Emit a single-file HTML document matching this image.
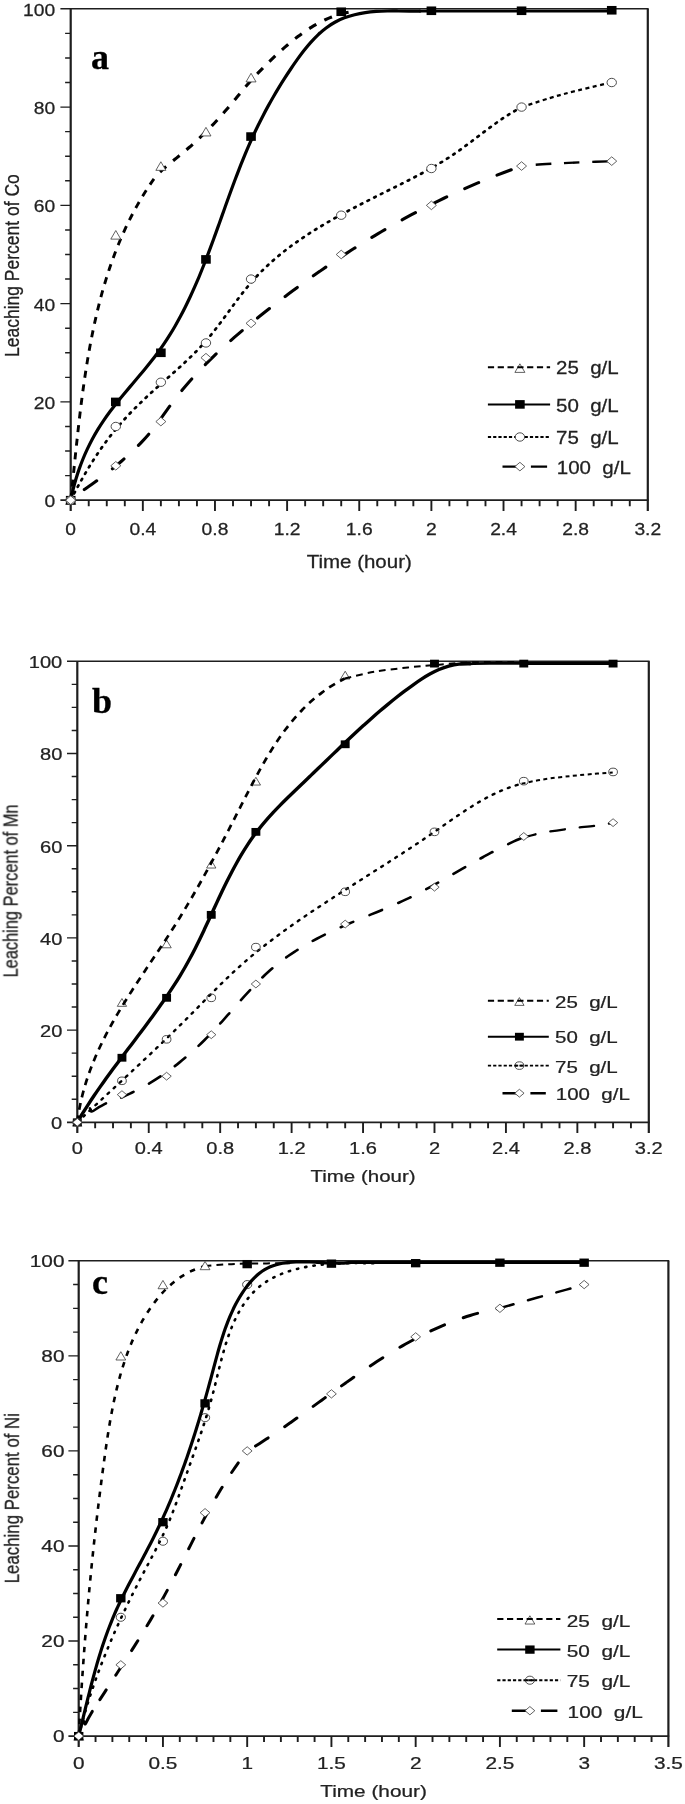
<!DOCTYPE html>
<html lang="en"><head><meta charset="utf-8"><title>Leaching percent of Co, Mn and Ni versus time</title>
<style>html,body{margin:0;padding:0;background:#fff}body{width:685px;height:1804px;overflow:hidden}svg{display:block}</style>
</head><body>
<svg width="685" height="1804" viewBox="0 0 685 1804">
<defs><filter id="soft" x="0" y="0" width="100%" height="100%" filterUnits="userSpaceOnUse" color-interpolation-filters="sRGB"><feGaussianBlur stdDeviation="0.55"/></filter></defs>
<rect width="685" height="1804" fill="#fff"/>
<g filter="url(#soft)">
<rect width="685" height="1804" fill="#fff"/>
<g id="chart-a">
<g stroke="#1e1e1e" fill="none" stroke-linecap="butt">
<line x1="60.4" y1="8.8" x2="648.6" y2="8.8" stroke-width="1.55"/>
<line x1="60.4" y1="500.2" x2="648.6" y2="500.2" stroke-width="1.8"/>
<line x1="70.7" y1="8.8" x2="70.7" y2="511" stroke-width="2.2"/>
<line x1="647.8" y1="8.8" x2="647.8" y2="511" stroke-width="2.2"/>
<path d="M65.1 475.63H70.7M65.1 451.06H70.7M65.1 426.49H70.7M60.4 401.92H70.7M65.1 377.35H70.7M65.1 352.78H70.7M65.1 328.21H70.7M60.4 303.64H70.7M65.1 279.07H70.7M65.1 254.5H70.7M65.1 229.93H70.7M60.4 205.36H70.7M65.1 180.79H70.7M65.1 156.22H70.7M65.1 131.65H70.7M60.4 107.08H70.7M65.1 82.51H70.7M65.1 57.94H70.7M65.1 33.37H70.7" stroke-width="1.4"/>
<path d="M88.73 500.2V506.2M106.77 500.2V506.2M124.8 500.2V506.2M142.84 500.2V511M160.87 500.2V506.2M178.91 500.2V506.2M196.94 500.2V506.2M214.97 500.2V511M233.01 500.2V506.2M251.04 500.2V506.2M269.08 500.2V506.2M287.11 500.2V511M305.15 500.2V506.2M323.18 500.2V506.2M341.22 500.2V506.2M359.25 500.2V511M377.28 500.2V506.2M395.32 500.2V506.2M413.35 500.2V506.2M431.39 500.2V511M449.42 500.2V506.2M467.46 500.2V506.2M485.49 500.2V506.2M503.52 500.2V511M521.56 500.2V506.2M539.59 500.2V506.2M557.63 500.2V506.2M575.66 500.2V511M593.7 500.2V506.2M611.73 500.2V506.2M629.77 500.2V506.2" stroke-width="1.9"/>
</g>
<text transform="translate(55.1 507.1) scale(0.94 0.85)" font-family='"Liberation Sans", Arial, Helvetica, sans-serif' font-size="20.5" font-weight="normal" text-anchor="end" fill="#222" stroke="#222" stroke-width="0.3" xml:space="preserve" style="white-space:pre">0</text>
<text transform="translate(55.1 408.82) scale(0.94 0.85)" font-family='"Liberation Sans", Arial, Helvetica, sans-serif' font-size="20.5" font-weight="normal" text-anchor="end" fill="#222" stroke="#222" stroke-width="0.3" xml:space="preserve" style="white-space:pre">20</text>
<text transform="translate(55.1 310.54) scale(0.94 0.85)" font-family='"Liberation Sans", Arial, Helvetica, sans-serif' font-size="20.5" font-weight="normal" text-anchor="end" fill="#222" stroke="#222" stroke-width="0.3" xml:space="preserve" style="white-space:pre">40</text>
<text transform="translate(55.1 212.26) scale(0.94 0.85)" font-family='"Liberation Sans", Arial, Helvetica, sans-serif' font-size="20.5" font-weight="normal" text-anchor="end" fill="#222" stroke="#222" stroke-width="0.3" xml:space="preserve" style="white-space:pre">60</text>
<text transform="translate(55.1 113.98) scale(0.94 0.85)" font-family='"Liberation Sans", Arial, Helvetica, sans-serif' font-size="20.5" font-weight="normal" text-anchor="end" fill="#222" stroke="#222" stroke-width="0.3" xml:space="preserve" style="white-space:pre">80</text>
<text transform="translate(55.1 15.7) scale(0.94 0.85)" font-family='"Liberation Sans", Arial, Helvetica, sans-serif' font-size="20.5" font-weight="normal" text-anchor="end" fill="#222" stroke="#222" stroke-width="0.3" xml:space="preserve" style="white-space:pre">100</text>
<text transform="translate(70.7 534.8) scale(0.94 0.85)" font-family='"Liberation Sans", Arial, Helvetica, sans-serif' font-size="20.5" font-weight="normal" text-anchor="middle" fill="#222" stroke="#222" stroke-width="0.3" xml:space="preserve" style="white-space:pre">0</text>
<text transform="translate(142.84 534.8) scale(0.94 0.85)" font-family='"Liberation Sans", Arial, Helvetica, sans-serif' font-size="20.5" font-weight="normal" text-anchor="middle" fill="#222" stroke="#222" stroke-width="0.3" xml:space="preserve" style="white-space:pre">0.4</text>
<text transform="translate(214.97 534.8) scale(0.94 0.85)" font-family='"Liberation Sans", Arial, Helvetica, sans-serif' font-size="20.5" font-weight="normal" text-anchor="middle" fill="#222" stroke="#222" stroke-width="0.3" xml:space="preserve" style="white-space:pre">0.8</text>
<text transform="translate(287.11 534.8) scale(0.94 0.85)" font-family='"Liberation Sans", Arial, Helvetica, sans-serif' font-size="20.5" font-weight="normal" text-anchor="middle" fill="#222" stroke="#222" stroke-width="0.3" xml:space="preserve" style="white-space:pre">1.2</text>
<text transform="translate(359.25 534.8) scale(0.94 0.85)" font-family='"Liberation Sans", Arial, Helvetica, sans-serif' font-size="20.5" font-weight="normal" text-anchor="middle" fill="#222" stroke="#222" stroke-width="0.3" xml:space="preserve" style="white-space:pre">1.6</text>
<text transform="translate(431.39 534.8) scale(0.94 0.85)" font-family='"Liberation Sans", Arial, Helvetica, sans-serif' font-size="20.5" font-weight="normal" text-anchor="middle" fill="#222" stroke="#222" stroke-width="0.3" xml:space="preserve" style="white-space:pre">2</text>
<text transform="translate(503.52 534.8) scale(0.94 0.85)" font-family='"Liberation Sans", Arial, Helvetica, sans-serif' font-size="20.5" font-weight="normal" text-anchor="middle" fill="#222" stroke="#222" stroke-width="0.3" xml:space="preserve" style="white-space:pre">2.4</text>
<text transform="translate(575.66 534.8) scale(0.94 0.85)" font-family='"Liberation Sans", Arial, Helvetica, sans-serif' font-size="20.5" font-weight="normal" text-anchor="middle" fill="#222" stroke="#222" stroke-width="0.3" xml:space="preserve" style="white-space:pre">2.8</text>
<text transform="translate(647.8 534.8) scale(0.94 0.85)" font-family='"Liberation Sans", Arial, Helvetica, sans-serif' font-size="20.5" font-weight="normal" text-anchor="middle" fill="#222" stroke="#222" stroke-width="0.3" xml:space="preserve" style="white-space:pre">3.2</text>
<text transform="translate(359.25 567.5) scale(1 0.85)" font-family='"Liberation Sans", Arial, Helvetica, sans-serif' font-size="20.5" font-weight="normal" text-anchor="middle" fill="#222" stroke="#222" stroke-width="0.3" xml:space="preserve" style="white-space:pre">Time (hour)</text>
<text transform="translate(19 265.6) rotate(-90) scale(0.853 1)" font-family='"Liberation Sans", Arial, Helvetica, sans-serif' font-size="20.5" font-weight="normal" text-anchor="middle" fill="#222" stroke="#222" stroke-width="0.3" xml:space="preserve" style="white-space:pre">Leaching Percent of Co</text>
<text transform="translate(91 68.6)" font-family='"Liberation Serif", "Times New Roman", serif' font-size="36" font-weight="bold" text-anchor="start" fill="#000" stroke="#000" stroke-width="0.3" xml:space="preserve" style="white-space:pre">a</text>
<g fill="none" stroke="#000">
<path d="M70.7 500.2 C70.85 498.78 71.31 494.51 71.62 491.66 C71.92 488.81 72.22 485.95 72.52 483.09 C72.82 480.22 73.11 477.35 73.41 474.48 C73.71 471.61 74 468.73 74.3 465.85 C74.6 462.96 74.9 460.08 75.2 457.19 C75.5 454.3 75.8 451.4 76.11 448.51 C76.42 445.61 76.72 442.71 77.04 439.81 C77.35 436.91 77.67 434.01 77.99 431.1 C78.31 428.2 78.64 425.29 78.98 422.38 C79.31 419.48 79.65 416.57 80 413.66 C80.35 410.75 80.7 407.84 81.07 404.93 C81.43 402.02 81.81 399.11 82.19 396.21 C82.57 393.3 82.96 390.39 83.37 387.49 C83.77 384.58 84.18 381.68 84.61 378.77 C85.03 375.87 85.47 372.97 85.92 370.08 C86.37 367.18 86.83 364.28 87.31 361.39 C87.79 358.5 88.28 355.61 88.79 352.73 C89.29 349.85 89.82 346.97 90.35 344.09 C90.89 341.22 91.44 338.35 92.02 335.48 C92.59 332.61 93.18 329.75 93.78 326.9 C94.39 324.05 95.02 321.2 95.66 318.35 C96.31 315.51 96.97 312.68 97.66 309.85 C98.34 307.02 99.05 304.2 99.78 301.39 C100.51 298.57 101.26 295.77 102.03 292.97 C102.8 290.18 103.6 287.39 104.42 284.61 C105.24 281.83 106.09 279.07 106.96 276.31 C107.83 273.55 108.72 270.8 109.65 268.06 C110.57 265.33 111.52 262.6 112.5 259.89 C113.48 257.17 114.48 254.47 115.51 251.78 C116.55 249.09 117.61 246.41 118.7 243.75 C119.8 241.08 120.92 238.43 122.08 235.79 C123.23 233.15 124.42 230.53 125.63 227.92 C126.85 225.31 128.1 222.71 129.39 220.13 C130.67 217.55 131.99 214.99 133.34 212.44 C134.7 209.89 136.09 207.36 137.51 204.84 C138.93 202.33 140.39 199.83 141.89 197.35 C143.39 194.86 144.92 192.4 146.49 189.95 C148.07 187.51 149.68 185.08 151.33 182.67 C152.98 180.26 155.55 176.69 156.4 175.5" stroke-width="2.9" stroke-linecap="butt" stroke-linejoin="round" stroke-dasharray="7 6.7"/>
<path d="M156.4 175.5 C157.05 174.88 158.96 172.98 160.27 171.76 C161.58 170.54 162.92 169.35 164.27 168.17 C165.62 166.98 166.99 165.83 168.37 164.67 C169.74 163.52 171.13 162.39 172.52 161.25 C173.91 160.12 175.31 158.99 176.7 157.86 C178.09 156.73 179.48 155.6 180.87 154.46 C182.25 153.33 183.63 152.18 185 151.03 C186.36 149.87 187.72 148.71 189.07 147.53 C190.41 146.36 191.75 145.17 193.07 143.98 C194.4 142.78 195.72 141.58 197.02 140.37 C198.33 139.15 199.62 137.93 200.91 136.7 C202.2 135.46 203.47 134.22 204.74 132.97 C206.01 131.72 207.27 130.46 208.52 129.19 C209.77 127.93 211.01 126.65 212.24 125.36 C213.47 124.08 214.69 122.79 215.9 121.49 C217.11 120.19 218.32 118.88 219.51 117.56 C220.71 116.24 221.89 114.92 223.07 113.59 C224.25 112.26 225.42 110.92 226.58 109.57 C227.74 108.23 228.89 106.87 230.03 105.52 C231.18 104.16 232.31 102.79 233.45 101.42 C234.58 100.06 235.71 98.68 236.84 97.31 C237.97 95.94 239.1 94.57 240.23 93.2 C241.36 91.83 242.49 90.46 243.64 89.1 C244.78 87.74 245.92 86.38 247.08 85.03 C248.24 83.69 249.41 82.34 250.59 81.02 C251.77 79.69 252.97 78.37 254.18 77.06 C255.39 75.76 256.61 74.46 257.85 73.18 C259.09 71.89 260.34 70.61 261.59 69.34 C262.85 68.06 264.13 66.79 265.4 65.53 C266.68 64.26 267.97 63 269.27 61.73 C270.56 60.47 271.87 59.21 273.18 57.96 C274.49 56.7 275.82 55.45 277.15 54.21 C278.48 52.97 279.82 51.74 281.17 50.52 C282.52 49.29 283.88 48.08 285.25 46.88 C286.62 45.69 288.01 44.5 289.4 43.33 C290.79 42.16 292.2 41.01 293.61 39.87 C295.03 38.74 296.46 37.63 297.9 36.53 C299.34 35.44 300.79 34.37 302.25 33.32 C303.72 32.27 305.19 31.25 306.69 30.25 C308.18 29.26 309.68 28.29 311.2 27.35 C312.72 26.41 314.25 25.5 315.8 24.62 C317.34 23.75 318.91 22.9 320.48 22.09 C322.06 21.28 323.65 20.51 325.26 19.77 C326.87 19.03 328.49 18.33 330.13 17.68 C331.77 17.02 333.42 16.4 335.09 15.83 C336.77 15.26 338.45 14.72 340.16 14.24 C341.87 13.76 343.59 13.32 345.33 12.93 C347.07 12.54 348.83 12.2 350.61 11.91 C352.39 11.62 355.1 11.32 356 11.2" stroke-width="3.1" stroke-linecap="butt" stroke-linejoin="round" stroke-dasharray="8.3 9" stroke-dashoffset="-5"/>
<path d="M70.7 500.2 C71.1 498.42 72.2 493.04 73.07 489.51 C73.95 485.97 74.9 482.46 75.94 478.98 C76.98 475.5 78.1 472.05 79.31 468.64 C80.52 465.23 81.8 461.85 83.17 458.51 C84.54 455.17 86 451.87 87.53 448.62 C89.07 445.36 90.69 442.14 92.39 438.97 C94.09 435.8 95.87 432.68 97.74 429.6 C99.6 426.53 101.56 423.51 103.58 420.53 C105.6 417.55 107.71 414.63 109.86 411.73 C112.01 408.83 114.24 405.98 116.48 403.14 C118.73 400.31 121.04 397.51 123.35 394.71 C125.66 391.92 128.01 389.15 130.35 386.37 C132.69 383.59 135.06 380.83 137.4 378.06 C139.73 375.28 142.08 372.51 144.38 369.72 C146.68 366.92 148.96 364.12 151.19 361.28 C153.42 358.44 155.62 355.59 157.74 352.69 C159.87 349.79 161.94 346.86 163.94 343.89 C165.95 340.92 167.89 337.92 169.78 334.88 C171.67 331.85 173.51 328.77 175.29 325.68 C177.08 322.58 178.81 319.45 180.5 316.29 C182.18 313.13 183.82 309.95 185.42 306.74 C187.02 303.53 188.58 300.3 190.1 297.04 C191.63 293.79 193.11 290.51 194.56 287.22 C196.01 283.92 197.43 280.6 198.83 277.27 C200.22 273.94 201.58 270.59 202.92 267.23 C204.27 263.87 205.58 260.49 206.88 257.11 C208.18 253.72 209.46 250.32 210.73 246.91 C212 243.51 213.25 240.09 214.49 236.67 C215.74 233.25 216.97 229.83 218.2 226.4 C219.43 222.97 220.65 219.54 221.87 216.1 C223.1 212.67 224.32 209.24 225.55 205.81 C226.78 202.38 228.01 198.95 229.25 195.53 C230.49 192.1 231.74 188.68 233.01 185.27 C234.27 181.87 235.54 178.46 236.84 175.07 C238.14 171.68 239.45 168.3 240.78 164.93 C242.12 161.56 243.48 158.2 244.86 154.87 C246.25 151.53 247.66 148.2 249.11 144.9 C250.55 141.59 252.03 138.31 253.54 135.04 C255.05 131.77 256.59 128.53 258.18 125.3 C259.76 122.07 261.38 118.86 263.03 115.67 C264.68 112.48 266.37 109.3 268.1 106.14 C269.83 102.99 271.6 99.84 273.4 96.72 C275.21 93.59 277.05 90.48 278.94 87.39 C280.82 84.29 282.74 81.21 284.71 78.15 C286.67 75.08 288.68 72.03 290.72 68.99 C292.77 65.95 294.85 62.91 297 59.91 C299.14 56.92 301.31 53.93 303.57 51.04 C305.83 48.15 308.14 45.3 310.55 42.6 C312.96 39.89 315.43 37.26 318.03 34.82 C320.62 32.38 323.29 30.05 326.1 27.95 C328.91 25.85 331.82 23.91 334.86 22.23 C337.91 20.54 341.11 19.09 344.39 17.84 C347.68 16.59 351.1 15.57 354.58 14.71 C358.06 13.84 361.65 13.18 365.26 12.65 C368.87 12.11 372.57 11.75 376.26 11.47 C379.95 11.2 383.7 11.08 387.41 11 C391.13 10.92 394.87 10.96 398.55 10.98 C402.22 11 405.89 11.09 409.47 11.11 C413.04 11.13 418.24 11.1 420 11.1" stroke-width="3.2" stroke-linecap="round" stroke-linejoin="round"/>
<path d="M420 11.1 C421.92 11.1 414.55 11.1 431.5 11.1 C448.45 11.1 491.63 11.12 521.7 11.1 C551.77 11.08 596.87 11.02 611.9 11" stroke-width="2.8" stroke-linecap="round" stroke-linejoin="round"/>
<path d="M70.7 500.2 C71.5 498.66 73.86 494.04 75.49 490.99 C77.11 487.93 78.75 484.89 80.43 481.88 C82.11 478.86 83.82 475.87 85.56 472.9 C87.31 469.92 89.08 466.98 90.9 464.06 C92.72 461.14 94.57 458.24 96.46 455.38 C98.35 452.52 100.28 449.69 102.26 446.9 C104.24 444.1 106.26 441.34 108.33 438.61 C110.4 435.89 112.52 433.2 114.69 430.56 C116.86 427.91 119.08 425.31 121.34 422.74 C123.61 420.17 125.93 417.65 128.29 415.16 C130.64 412.66 133.04 410.2 135.47 407.77 C137.89 405.34 140.36 402.94 142.85 400.56 C145.33 398.18 147.85 395.82 150.38 393.48 C152.91 391.14 155.47 388.83 158.03 386.52 C160.59 384.21 163.17 381.92 165.74 379.63 C168.32 377.34 170.9 375.06 173.47 372.77 C176.03 370.47 178.6 368.18 181.13 365.86 C183.66 363.54 186.18 361.21 188.66 358.84 C191.14 356.46 193.59 354.07 195.99 351.63 C198.39 349.19 200.75 346.71 203.04 344.17 C205.34 341.64 207.57 339.04 209.76 336.4 C211.95 333.77 214.07 331.07 216.18 328.36 C218.29 325.65 220.34 322.89 222.4 320.13 C224.45 317.38 226.47 314.59 228.51 311.82 C230.55 309.05 232.56 306.26 234.61 303.5 C236.66 300.74 238.71 297.99 240.8 295.28 C242.89 292.57 245 289.87 247.17 287.24 C249.34 284.61 251.54 282.01 253.81 279.48 C256.09 276.95 258.42 274.47 260.8 272.06 C263.19 269.64 265.63 267.28 268.12 264.97 C270.61 262.66 273.16 260.41 275.75 258.2 C278.34 255.99 280.98 253.83 283.66 251.71 C286.33 249.6 289.06 247.53 291.82 245.5 C294.57 243.47 297.38 241.49 300.21 239.54 C303.04 237.59 305.91 235.68 308.8 233.81 C311.69 231.93 314.62 230.09 317.57 228.28 C320.52 226.47 323.5 224.69 326.5 222.94 C329.49 221.19 332.51 219.47 335.55 217.77 C338.58 216.07 341.63 214.4 344.7 212.74 C347.76 211.09 350.84 209.45 353.93 207.84 C357.01 206.22 360.11 204.62 363.21 203.04 C366.3 201.45 369.41 199.88 372.51 198.32 C375.61 196.75 378.71 195.2 381.81 193.66 C384.91 192.11 388 190.58 391.09 189.04 C394.17 187.5 397.25 185.98 400.31 184.44 C403.38 182.9 406.43 181.36 409.47 179.81 C412.51 178.25 415.53 176.68 418.54 175.09 C421.55 173.5 424.54 171.89 427.51 170.24 C430.49 168.59 433.44 166.92 436.37 165.19 C439.3 163.47 442.21 161.72 445.1 159.91 C447.98 158.09 450.84 156.24 453.68 154.32 C456.51 152.4 459.32 150.42 462.11 148.4 C464.9 146.39 467.66 144.32 470.43 142.25 C473.2 140.17 475.95 138.06 478.71 135.97 C481.47 133.88 484.22 131.77 487 129.7 C489.78 127.63 492.56 125.57 495.38 123.57 C498.19 121.56 501.02 119.58 503.89 117.69 C506.77 115.79 509.66 113.94 512.61 112.19 C515.56 110.44 520.1 108.03 521.6 107.2" stroke-width="2.7" stroke-linecap="round" stroke-linejoin="round" stroke-dasharray="1.7 5.8"/>
<path d="M521.6 107.2 C526.27 105.68 540.25 100.9 549.6 98.1 C558.95 95.3 567.3 93.03 577.7 90.4 C588.1 87.77 606.28 83.65 612 82.3" stroke-width="2.3" stroke-linecap="butt" stroke-linejoin="round" stroke-dasharray="4 3.4"/>
<path d="M84.3 489.6 C85.57 488.72 89.39 486.11 91.91 484.31 C94.44 482.51 96.96 480.68 99.46 478.82 C101.96 476.96 104.45 475.07 106.92 473.14 C109.38 471.22 111.83 469.26 114.25 467.27 C116.67 465.28 119.07 463.26 121.44 461.21 C123.81 459.16 126.15 457.07 128.46 454.96 C130.76 452.84 133.04 450.7 135.27 448.51 C137.5 446.33 139.7 444.11 141.83 441.85 C143.97 439.58 146.07 437.28 148.1 434.92 C150.13 432.57 152.09 430.16 154.01 427.71 C155.94 425.26 157.78 422.75 159.63 420.24 C161.48 417.73 163.27 415.18 165.09 412.65 C166.91 410.12 168.71 407.58 170.56 405.07 C172.4 402.57 174.27 400.08 176.18 397.63 C178.08 395.18 180.02 392.75 181.99 390.36 C183.96 387.96 185.96 385.6 187.99 383.26 C190.02 380.91 192.08 378.6 194.17 376.31 C196.25 374.02 198.37 371.75 200.51 369.51 C202.64 367.27 204.81 365.05 207 362.85 C209.18 360.65 211.4 358.48 213.63 356.32 C215.86 354.17 218.12 352.03 220.39 349.92 C222.66 347.8 224.96 345.71 227.27 343.63 C229.58 341.55 231.91 339.49 234.26 337.44 C236.6 335.4 238.97 333.37 241.34 331.35 C243.72 329.34 246.11 327.34 248.51 325.35 C250.91 323.37 253.33 321.39 255.75 319.43 C258.18 317.47 260.61 315.52 263.06 313.58 C265.5 311.64 267.95 309.71 270.41 307.79 C272.87 305.87 275.34 303.96 277.81 302.06 C280.29 300.16 282.77 298.27 285.26 296.39 C287.75 294.51 290.24 292.64 292.75 290.78 C295.25 288.92 297.76 287.07 300.28 285.23 C302.8 283.39 305.33 281.57 307.86 279.75 C310.39 277.93 312.93 276.13 315.48 274.33 C318.03 272.54 320.59 270.75 323.15 268.98 C325.72 267.21 328.29 265.45 330.87 263.71 C333.45 261.96 336.03 260.22 338.63 258.5 C341.22 256.78 343.82 255.07 346.43 253.37 C349.04 251.67 351.66 249.98 354.29 248.31 C356.91 246.64 359.55 244.98 362.19 243.33 C364.83 241.69 367.48 240.05 370.14 238.44 C372.79 236.82 375.46 235.21 378.13 233.62 C380.8 232.03 383.49 230.45 386.17 228.89 C388.86 227.32 391.56 225.77 394.27 224.24 C396.97 222.71 399.68 221.19 402.4 219.68 C405.13 218.18 407.86 216.69 410.59 215.21 C413.33 213.74 416.08 212.28 418.83 210.83 C421.58 209.39 424.35 207.96 427.12 206.55 C429.89 205.13 432.67 203.74 435.45 202.36 C438.24 200.97 441.03 199.61 443.84 198.26 C446.64 196.91 449.45 195.58 452.27 194.27 C455.09 192.95 457.92 191.65 460.76 190.37 C463.6 189.09 466.44 187.83 469.3 186.58 C472.15 185.34 475.01 184.11 477.89 182.9 C480.76 181.68 483.64 180.49 486.52 179.32 C489.41 178.14 492.31 176.98 495.22 175.84 C498.12 174.71 501.03 173.59 503.96 172.48 C506.88 171.38 509.81 170.3 512.75 169.23 C515.69 168.17 520.13 166.62 521.6 166.1" stroke-width="3.1" stroke-linecap="round" stroke-linejoin="round" stroke-dasharray="15.2 19.8"/>
<path d="M521.6 166.1 C523.93 165.87 529.17 165.17 535.6 164.7 C542.03 164.23 552.02 163.72 560.2 163.3 C568.38 162.88 576.07 162.55 584.7 162.2 C593.33 161.85 607.45 161.37 612 161.2" stroke-width="2.4" stroke-linecap="butt" stroke-linejoin="round" stroke-dasharray="15.6 12.7" stroke-dashoffset="14.1"/>
</g>
<path d="M70.7 495.9 L75.7 504.5 L65.7 504.5 Z" fill="#fff" stroke="#3a3a3a" stroke-width="0.8"/>
<path d="M115.79 230.54 L120.79 239.14 L110.79 239.14 Z" fill="#fff" stroke="#3a3a3a" stroke-width="0.8"/>
<path d="M160.87 161.75 L165.87 170.35 L155.87 170.35 Z" fill="#fff" stroke="#3a3a3a" stroke-width="0.8"/>
<path d="M205.96 127.35 L210.96 135.95 L200.96 135.95 Z" fill="#fff" stroke="#3a3a3a" stroke-width="0.8"/>
<path d="M251.04 73.3 L256.04 81.9 L246.04 81.9 Z" fill="#fff" stroke="#3a3a3a" stroke-width="0.8"/>
<rect x="65.9" y="495.9" width="9.6" height="8.6" fill="#000"/>
<rect x="110.99" y="397.62" width="9.6" height="8.6" fill="#000"/>
<rect x="156.07" y="348.48" width="9.6" height="8.6" fill="#000"/>
<rect x="201.16" y="255.11" width="9.6" height="8.6" fill="#000"/>
<rect x="246.24" y="132.26" width="9.6" height="8.6" fill="#000"/>
<rect x="336.42" y="7.45" width="9.6" height="8.6" fill="#000"/>
<rect x="426.59" y="6.47" width="9.6" height="8.6" fill="#000"/>
<rect x="516.76" y="6.47" width="9.6" height="8.6" fill="#000"/>
<rect x="606.93" y="5.97" width="9.6" height="8.6" fill="#000"/>
<ellipse cx="70.7" cy="500.2" rx="4.7" ry="4.2" fill="#fff" stroke="#3a3a3a" stroke-width="0.9"/>
<ellipse cx="115.79" cy="426.49" rx="4.7" ry="4.2" fill="#fff" stroke="#3a3a3a" stroke-width="0.9"/>
<ellipse cx="160.87" cy="382.26" rx="4.7" ry="4.2" fill="#fff" stroke="#3a3a3a" stroke-width="0.9"/>
<ellipse cx="205.96" cy="342.95" rx="4.7" ry="4.2" fill="#fff" stroke="#3a3a3a" stroke-width="0.9"/>
<ellipse cx="251.04" cy="279.07" rx="4.7" ry="4.2" fill="#fff" stroke="#3a3a3a" stroke-width="0.9"/>
<ellipse cx="341.22" cy="215.19" rx="4.7" ry="4.2" fill="#fff" stroke="#3a3a3a" stroke-width="0.9"/>
<ellipse cx="431.39" cy="168.5" rx="4.7" ry="4.2" fill="#fff" stroke="#3a3a3a" stroke-width="0.9"/>
<ellipse cx="521.56" cy="107.08" rx="4.7" ry="4.2" fill="#fff" stroke="#3a3a3a" stroke-width="0.9"/>
<ellipse cx="611.73" cy="82.51" rx="4.7" ry="4.2" fill="#fff" stroke="#3a3a3a" stroke-width="0.9"/>
<path d="M70.7 495.9 L75.7 500.2 L70.7 504.5 L65.7 500.2 Z" fill="#fff" stroke="#3a3a3a" stroke-width="0.8"/>
<path d="M115.79 461.5 L120.79 465.8 L115.79 470.1 L110.79 465.8 Z" fill="#fff" stroke="#3a3a3a" stroke-width="0.8"/>
<path d="M160.87 417.28 L165.87 421.58 L160.87 425.88 L155.87 421.58 Z" fill="#fff" stroke="#3a3a3a" stroke-width="0.8"/>
<path d="M205.96 353.39 L210.96 357.69 L205.96 361.99 L200.96 357.69 Z" fill="#fff" stroke="#3a3a3a" stroke-width="0.8"/>
<path d="M251.04 319 L256.04 323.3 L251.04 327.6 L246.04 323.3 Z" fill="#fff" stroke="#3a3a3a" stroke-width="0.8"/>
<path d="M341.22 250.2 L346.22 254.5 L341.22 258.8 L336.22 254.5 Z" fill="#fff" stroke="#3a3a3a" stroke-width="0.8"/>
<path d="M431.39 201.06 L436.39 205.36 L431.39 209.66 L426.39 205.36 Z" fill="#fff" stroke="#3a3a3a" stroke-width="0.8"/>
<path d="M521.56 161.75 L526.56 166.05 L521.56 170.35 L516.56 166.05 Z" fill="#fff" stroke="#3a3a3a" stroke-width="0.8"/>
<path d="M611.73 156.83 L616.73 161.13 L611.73 165.43 L606.73 161.13 Z" fill="#fff" stroke="#3a3a3a" stroke-width="0.8"/>
<g fill="none" stroke="#000">
</g>
<path d="M519.9 363.8 L524.9 372.4 L514.9 372.4 Z" fill="#fff" stroke="#3a3a3a" stroke-width="0.8"/>
<g stroke="#000" fill="none">
<line x1="487.9" y1="367.3" x2="550.1" y2="367.3" stroke-width="2" stroke-dasharray="6.2 3.6"/>
<line x1="487.9" y1="404.4" x2="550.1" y2="404.4" stroke-width="2.0"/>
<line x1="487.9" y1="437" x2="550.1" y2="437" stroke-width="1.9" stroke-dasharray="3.2 2.05"/>
<path d="M502.5 466.6H519.9M530.9 466.6H547.1" stroke-width="2.4"/>
</g>
<rect x="515.1" y="400.1" width="9.6" height="8.6" fill="#000"/>
<ellipse cx="519.9" cy="437" rx="4.7" ry="4.2" fill="#fff" stroke="#3a3a3a" stroke-width="0.9"/>
<path d="M519.9 462.3 L524.9 466.6 L519.9 470.9 L514.9 466.6 Z" fill="#fff" stroke="#3a3a3a" stroke-width="0.8"/>
<text transform="translate(556 374.4) scale(1 0.85)" font-family='"Liberation Sans", Arial, Helvetica, sans-serif' font-size="20.5" font-weight="normal" text-anchor="start" fill="#222" stroke="#222" stroke-width="0.3" xml:space="preserve" style="white-space:pre">25  g/L</text>
<text transform="translate(556 411.5) scale(1 0.85)" font-family='"Liberation Sans", Arial, Helvetica, sans-serif' font-size="20.5" font-weight="normal" text-anchor="start" fill="#222" stroke="#222" stroke-width="0.3" xml:space="preserve" style="white-space:pre">50  g/L</text>
<text transform="translate(556 444) scale(1 0.85)" font-family='"Liberation Sans", Arial, Helvetica, sans-serif' font-size="20.5" font-weight="normal" text-anchor="start" fill="#222" stroke="#222" stroke-width="0.3" xml:space="preserve" style="white-space:pre">75  g/L</text>
<text transform="translate(556.8 473.6) scale(1 0.85)" font-family='"Liberation Sans", Arial, Helvetica, sans-serif' font-size="20.5" font-weight="normal" text-anchor="start" fill="#222" stroke="#222" stroke-width="0.3" xml:space="preserve" style="white-space:pre">100  g/L</text>
</g>
<g id="chart-b">
<g stroke="#1e1e1e" fill="none" stroke-linecap="butt">
<line x1="67" y1="661.3" x2="649.6" y2="661.3" stroke-width="1.55"/>
<line x1="67" y1="1122.3" x2="649.6" y2="1122.3" stroke-width="1.8"/>
<line x1="77.3" y1="661.3" x2="77.3" y2="1133.1" stroke-width="2.2"/>
<line x1="648.8" y1="661.3" x2="648.8" y2="1133.1" stroke-width="2.2"/>
<path d="M71.7 1099.25H77.3M71.7 1076.2H77.3M71.7 1053.15H77.3M67 1030.1H77.3M71.7 1007.05H77.3M71.7 984H77.3M71.7 960.95H77.3M67 937.9H77.3M71.7 914.85H77.3M71.7 891.8H77.3M71.7 868.75H77.3M67 845.7H77.3M71.7 822.65H77.3M71.7 799.6H77.3M71.7 776.55H77.3M67 753.5H77.3M71.7 730.45H77.3M71.7 707.4H77.3M71.7 684.35H77.3" stroke-width="1.4"/>
<path d="M95.16 1122.3V1128.3M113.02 1122.3V1128.3M130.88 1122.3V1128.3M148.74 1122.3V1133.1M166.6 1122.3V1128.3M184.46 1122.3V1128.3M202.32 1122.3V1128.3M220.18 1122.3V1133.1M238.03 1122.3V1128.3M255.89 1122.3V1128.3M273.75 1122.3V1128.3M291.61 1122.3V1133.1M309.47 1122.3V1128.3M327.33 1122.3V1128.3M345.19 1122.3V1128.3M363.05 1122.3V1133.1M380.91 1122.3V1128.3M398.77 1122.3V1128.3M416.63 1122.3V1128.3M434.49 1122.3V1133.1M452.35 1122.3V1128.3M470.21 1122.3V1128.3M488.07 1122.3V1128.3M505.93 1122.3V1133.1M523.78 1122.3V1128.3M541.64 1122.3V1128.3M559.5 1122.3V1128.3M577.36 1122.3V1133.1M595.22 1122.3V1128.3M613.08 1122.3V1128.3M630.94 1122.3V1128.3" stroke-width="1.9"/>
</g>
<text transform="translate(62.3 1129.1) scale(0.98 0.8)" font-family='"Liberation Sans", Arial, Helvetica, sans-serif' font-size="20.5" font-weight="normal" text-anchor="end" fill="#222" stroke="#222" stroke-width="0.3" xml:space="preserve" style="white-space:pre">0</text>
<text transform="translate(62.3 1036.9) scale(0.98 0.8)" font-family='"Liberation Sans", Arial, Helvetica, sans-serif' font-size="20.5" font-weight="normal" text-anchor="end" fill="#222" stroke="#222" stroke-width="0.3" xml:space="preserve" style="white-space:pre">20</text>
<text transform="translate(62.3 944.7) scale(0.98 0.8)" font-family='"Liberation Sans", Arial, Helvetica, sans-serif' font-size="20.5" font-weight="normal" text-anchor="end" fill="#222" stroke="#222" stroke-width="0.3" xml:space="preserve" style="white-space:pre">40</text>
<text transform="translate(62.3 852.5) scale(0.98 0.8)" font-family='"Liberation Sans", Arial, Helvetica, sans-serif' font-size="20.5" font-weight="normal" text-anchor="end" fill="#222" stroke="#222" stroke-width="0.3" xml:space="preserve" style="white-space:pre">60</text>
<text transform="translate(62.3 760.3) scale(0.98 0.8)" font-family='"Liberation Sans", Arial, Helvetica, sans-serif' font-size="20.5" font-weight="normal" text-anchor="end" fill="#222" stroke="#222" stroke-width="0.3" xml:space="preserve" style="white-space:pre">80</text>
<text transform="translate(62.3 668.1) scale(0.98 0.8)" font-family='"Liberation Sans", Arial, Helvetica, sans-serif' font-size="20.5" font-weight="normal" text-anchor="end" fill="#222" stroke="#222" stroke-width="0.3" xml:space="preserve" style="white-space:pre">100</text>
<text transform="translate(77.3 1154.4) scale(0.98 0.8)" font-family='"Liberation Sans", Arial, Helvetica, sans-serif' font-size="20.5" font-weight="normal" text-anchor="middle" fill="#222" stroke="#222" stroke-width="0.3" xml:space="preserve" style="white-space:pre">0</text>
<text transform="translate(148.74 1154.4) scale(0.98 0.8)" font-family='"Liberation Sans", Arial, Helvetica, sans-serif' font-size="20.5" font-weight="normal" text-anchor="middle" fill="#222" stroke="#222" stroke-width="0.3" xml:space="preserve" style="white-space:pre">0.4</text>
<text transform="translate(220.18 1154.4) scale(0.98 0.8)" font-family='"Liberation Sans", Arial, Helvetica, sans-serif' font-size="20.5" font-weight="normal" text-anchor="middle" fill="#222" stroke="#222" stroke-width="0.3" xml:space="preserve" style="white-space:pre">0.8</text>
<text transform="translate(291.61 1154.4) scale(0.98 0.8)" font-family='"Liberation Sans", Arial, Helvetica, sans-serif' font-size="20.5" font-weight="normal" text-anchor="middle" fill="#222" stroke="#222" stroke-width="0.3" xml:space="preserve" style="white-space:pre">1.2</text>
<text transform="translate(363.05 1154.4) scale(0.98 0.8)" font-family='"Liberation Sans", Arial, Helvetica, sans-serif' font-size="20.5" font-weight="normal" text-anchor="middle" fill="#222" stroke="#222" stroke-width="0.3" xml:space="preserve" style="white-space:pre">1.6</text>
<text transform="translate(434.49 1154.4) scale(0.98 0.8)" font-family='"Liberation Sans", Arial, Helvetica, sans-serif' font-size="20.5" font-weight="normal" text-anchor="middle" fill="#222" stroke="#222" stroke-width="0.3" xml:space="preserve" style="white-space:pre">2</text>
<text transform="translate(505.93 1154.4) scale(0.98 0.8)" font-family='"Liberation Sans", Arial, Helvetica, sans-serif' font-size="20.5" font-weight="normal" text-anchor="middle" fill="#222" stroke="#222" stroke-width="0.3" xml:space="preserve" style="white-space:pre">2.4</text>
<text transform="translate(577.36 1154.4) scale(0.98 0.8)" font-family='"Liberation Sans", Arial, Helvetica, sans-serif' font-size="20.5" font-weight="normal" text-anchor="middle" fill="#222" stroke="#222" stroke-width="0.3" xml:space="preserve" style="white-space:pre">2.8</text>
<text transform="translate(648.8 1154.4) scale(0.98 0.8)" font-family='"Liberation Sans", Arial, Helvetica, sans-serif' font-size="20.5" font-weight="normal" text-anchor="middle" fill="#222" stroke="#222" stroke-width="0.3" xml:space="preserve" style="white-space:pre">3.2</text>
<text transform="translate(363.05 1181.6) scale(1 0.8)" font-family='"Liberation Sans", Arial, Helvetica, sans-serif' font-size="20.5" font-weight="normal" text-anchor="middle" fill="#222" stroke="#222" stroke-width="0.3" xml:space="preserve" style="white-space:pre">Time (hour)</text>
<text transform="translate(17.6 891) rotate(-90) scale(0.8 1)" font-family='"Liberation Sans", Arial, Helvetica, sans-serif' font-size="20.5" font-weight="normal" text-anchor="middle" fill="#222" stroke="#222" stroke-width="0.3" xml:space="preserve" style="white-space:pre">Leaching Percent of Mn</text>
<text transform="translate(92 713)" font-family='"Liberation Serif", "Times New Roman", serif' font-size="36" font-weight="bold" text-anchor="start" fill="#000" stroke="#000" stroke-width="0.3" xml:space="preserve" style="white-space:pre">b</text>
<path d="M77.3 1118.4 L81.95 1126.2 L72.65 1126.2 Z" fill="#fff" stroke="#3a3a3a" stroke-width="0.8"/>
<path d="M121.95 998.54 L126.6 1006.34 L117.3 1006.34 Z" fill="#fff" stroke="#3a3a3a" stroke-width="0.8"/>
<path d="M166.6 939.99 L171.25 947.79 L161.95 947.79 Z" fill="#fff" stroke="#3a3a3a" stroke-width="0.8"/>
<path d="M211.25 860.24 L215.9 868.04 L206.6 868.04 Z" fill="#fff" stroke="#3a3a3a" stroke-width="0.8"/>
<path d="M255.89 777.26 L260.54 785.06 L251.24 785.06 Z" fill="#fff" stroke="#3a3a3a" stroke-width="0.8"/>
<path d="M345.19 671.23 L349.84 679.03 L340.54 679.03 Z" fill="#fff" stroke="#3a3a3a" stroke-width="0.8"/>
<g fill="none" stroke="#000">
<path d="M77.3 1122.3 C77.52 1120.78 78.12 1116.17 78.62 1113.15 C79.12 1110.13 79.68 1107.15 80.3 1104.18 C80.92 1101.22 81.6 1098.29 82.33 1095.38 C83.05 1092.47 83.84 1089.59 84.67 1086.73 C85.51 1083.87 86.39 1081.04 87.32 1078.23 C88.26 1075.42 89.24 1072.63 90.26 1069.87 C91.29 1067.1 92.36 1064.36 93.47 1061.63 C94.58 1058.9 95.73 1056.2 96.92 1053.51 C98.11 1050.83 99.34 1048.16 100.6 1045.5 C101.87 1042.85 103.17 1040.22 104.5 1037.59 C105.83 1034.97 107.2 1032.37 108.59 1029.77 C109.98 1027.18 111.4 1024.6 112.85 1022.03 C114.29 1019.46 115.77 1016.91 117.27 1014.36 C118.76 1011.82 120.28 1009.28 121.82 1006.75 C123.36 1004.23 124.92 1001.71 126.49 999.19 C128.06 996.68 129.66 994.18 131.26 991.68 C132.86 989.18 134.48 986.68 136.11 984.19 C137.74 981.7 139.38 979.22 141.02 976.73 C142.67 974.24 144.32 971.76 145.98 969.28 C147.64 966.8 149.3 964.32 150.96 961.83 C152.62 959.35 154.29 956.87 155.95 954.38 C157.61 951.89 159.27 949.4 160.92 946.91 C162.58 944.42 164.23 941.92 165.87 939.41 C167.5 936.91 169.14 934.4 170.76 931.88 C172.38 929.37 173.99 926.84 175.58 924.31 C177.18 921.77 178.76 919.23 180.32 916.68 C181.89 914.13 183.45 911.57 184.99 909.01 C186.53 906.44 188.06 903.87 189.58 901.29 C191.1 898.71 192.61 896.12 194.11 893.53 C195.61 890.93 197.09 888.33 198.57 885.72 C200.05 883.12 201.52 880.5 202.98 877.88 C204.44 875.27 205.89 872.64 207.33 870.01 C208.77 867.38 210.2 864.75 211.63 862.11 C213.06 859.47 214.48 856.83 215.89 854.18 C217.3 851.53 218.71 848.88 220.11 846.22 C221.51 843.57 222.91 840.91 224.3 838.25 C225.69 835.59 227.07 832.92 228.45 830.25 C229.84 827.59 231.21 824.92 232.59 822.24 C233.96 819.57 235.33 816.9 236.7 814.22 C238.07 811.55 239.43 808.87 240.8 806.19 C242.16 803.51 243.52 800.83 244.89 798.16 C246.26 795.48 247.63 792.81 249.01 790.15 C250.39 787.49 251.77 784.83 253.17 782.18 C254.57 779.54 255.97 776.9 257.39 774.28 C258.82 771.67 260.25 769.06 261.71 766.47 C263.17 763.89 264.64 761.31 266.14 758.77 C267.64 756.22 269.16 753.69 270.71 751.2 C272.26 748.7 273.83 746.22 275.44 743.78 C277.04 741.33 278.68 738.91 280.35 736.53 C282.02 734.15 283.73 731.8 285.47 729.48 C287.22 727.17 289 724.89 290.82 722.65 C292.65 720.42 294.52 718.22 296.43 716.07 C298.35 713.91 300.31 711.8 302.32 709.74 C304.33 707.68 306.39 705.66 308.51 703.69 C310.62 701.73 312.79 699.81 315.02 697.96 C317.25 696.1 319.53 694.29 321.88 692.55 C324.23 690.8 326.64 689.11 329.12 687.49 C331.6 685.86 334.14 684.29 336.75 682.8 C339.36 681.3 343.46 679.21 344.8 678.5" stroke-width="2.7" stroke-linecap="butt" stroke-linejoin="round" stroke-dasharray="6.9 5.8"/>
<path d="M344.8 678.5 C349.72 677.38 363.78 673.63 374.3 671.8 C384.82 669.97 397.82 668.62 407.9 667.5 C417.98 666.38 424.45 665.95 434.8 665.1 C445.15 664.25 455.22 662.92 470 662.4 C484.78 661.88 514.58 662.07 523.5 662" stroke-width="2.0" stroke-linecap="butt" stroke-linejoin="round" stroke-dasharray="6.7 5"/>
<path d="M77.3 1122.3 C78.2 1120.79 80.88 1116.22 82.72 1113.22 C84.56 1110.22 86.44 1107.25 88.35 1104.3 C90.26 1101.35 92.2 1098.43 94.16 1095.52 C96.12 1092.61 98.12 1089.73 100.13 1086.86 C102.14 1083.99 104.17 1081.14 106.22 1078.3 C108.27 1075.46 110.34 1072.64 112.41 1069.82 C114.49 1067 116.59 1064.2 118.69 1061.4 C120.78 1058.6 122.89 1055.82 125 1053.03 C127.12 1050.24 129.23 1047.46 131.35 1044.67 C133.46 1041.89 135.58 1039.11 137.68 1036.32 C139.79 1033.53 141.9 1030.75 143.99 1027.95 C146.08 1025.16 148.17 1022.36 150.24 1019.55 C152.31 1016.74 154.37 1013.92 156.41 1011.09 C158.44 1008.25 160.47 1005.41 162.46 1002.55 C164.46 999.69 166.43 996.81 168.38 993.92 C170.32 991.02 172.25 988.11 174.13 985.17 C176.02 982.23 177.88 979.27 179.7 976.29 C181.52 973.3 183.3 970.29 185.05 967.25 C186.79 964.21 188.49 961.14 190.15 958.04 C191.82 954.95 193.44 951.82 195.04 948.68 C196.63 945.53 198.19 942.36 199.74 939.18 C201.29 936 202.8 932.8 204.31 929.6 C205.82 926.4 207.31 923.18 208.8 919.96 C210.29 916.75 211.77 913.52 213.25 910.31 C214.74 907.09 216.22 903.87 217.71 900.66 C219.21 897.46 220.71 894.26 222.23 891.07 C223.76 887.89 225.29 884.72 226.86 881.57 C228.43 878.42 230.01 875.29 231.64 872.19 C233.26 869.09 234.92 866.01 236.62 862.96 C238.32 859.92 240.05 856.91 241.84 853.93 C243.63 850.96 245.46 848.02 247.36 845.13 C249.26 842.24 251.2 839.38 253.22 836.59 C255.24 833.79 257.32 831.04 259.47 828.34 C261.61 825.64 263.83 823 266.09 820.38 C268.35 817.77 270.68 815.21 273.04 812.66 C275.39 810.12 277.81 807.62 280.24 805.13 C282.67 802.64 285.15 800.19 287.64 797.74 C290.13 795.29 292.65 792.86 295.18 790.43 C297.71 788 300.26 785.58 302.8 783.15 C305.34 780.73 307.89 778.3 310.43 775.86 C312.98 773.43 315.52 770.98 318.06 768.54 C320.6 766.1 323.13 763.64 325.67 761.2 C328.22 758.75 330.75 756.3 333.3 753.86 C335.84 751.42 338.39 748.97 340.94 746.54 C343.5 744.11 346.05 741.68 348.62 739.27 C351.19 736.86 353.76 734.45 356.34 732.07 C358.92 729.68 361.51 727.31 364.11 724.95 C366.71 722.6 369.32 720.26 371.95 717.94 C374.58 715.63 377.21 713.33 379.87 711.07 C382.52 708.8 385.19 706.55 387.88 704.34 C390.57 702.12 393.27 699.94 395.99 697.78 C398.71 695.63 401.45 693.5 404.22 691.42 C406.98 689.33 409.76 687.27 412.57 685.27 C415.38 683.27 418.2 681.27 421.08 679.4 C423.95 677.53 426.86 675.7 429.84 674.06 C432.83 672.41 435.86 670.85 439 669.53 C442.13 668.21 445.33 667.02 448.66 666.11 C451.98 665.21 455.39 664.49 458.95 664.11 C462.51 663.72 468.16 663.85 470 663.8" stroke-width="3.4" stroke-linecap="round" stroke-linejoin="round"/>
<path d="M470 663.8 C473.33 663.73 481.08 663.48 490 663.4 C498.92 663.32 517.92 663.32 523.5 663.3" stroke-width="2.7" stroke-linecap="round" stroke-linejoin="round"/>
<path d="M523.5 663.3 C531.25 663.3 555.1 663.3 570 663.3 C584.9 663.3 605.75 663.3 612.9 663.3" stroke-width="3.3" stroke-linecap="butt" stroke-linejoin="round"/>
<path d="M77.3 1122.3 C78.45 1121.21 81.91 1117.94 84.23 1115.76 C86.54 1113.58 88.86 1111.41 91.17 1109.24 C93.49 1107.06 95.82 1104.9 98.14 1102.73 C100.47 1100.56 102.79 1098.39 105.12 1096.23 C107.45 1094.06 109.78 1091.89 112.11 1089.73 C114.44 1087.56 116.77 1085.4 119.1 1083.23 C121.43 1081.06 123.76 1078.9 126.09 1076.73 C128.42 1074.56 130.74 1072.39 133.07 1070.22 C135.4 1068.04 137.72 1065.87 140.04 1063.69 C142.36 1061.51 144.68 1059.33 147 1057.15 C149.31 1054.96 151.63 1052.78 153.93 1050.58 C156.24 1048.39 158.55 1046.19 160.84 1043.99 C163.14 1041.79 165.44 1039.58 167.72 1037.36 C170.01 1035.15 172.29 1032.93 174.57 1030.7 C176.85 1028.48 179.11 1026.24 181.38 1024 C183.64 1021.76 185.89 1019.51 188.14 1017.26 C190.38 1015 192.62 1012.73 194.85 1010.47 C197.09 1008.2 199.31 1005.93 201.54 1003.66 C203.77 1001.39 206 999.11 208.23 996.85 C210.46 994.59 212.7 992.32 214.94 990.08 C217.18 987.83 219.43 985.59 221.7 983.37 C223.96 981.14 226.23 978.93 228.52 976.75 C230.81 974.56 233.11 972.39 235.44 970.25 C237.76 968.1 240.1 965.98 242.47 963.89 C244.84 961.8 247.23 959.74 249.64 957.7 C252.04 955.67 254.48 953.66 256.92 951.67 C259.37 949.68 261.84 947.71 264.32 945.77 C266.81 943.82 269.31 941.9 271.82 939.99 C274.34 938.08 276.87 936.2 279.42 934.32 C281.96 932.45 284.52 930.6 287.09 928.76 C289.66 926.91 292.25 925.09 294.84 923.27 C297.43 921.45 300.04 919.65 302.65 917.86 C305.26 916.07 307.89 914.29 310.52 912.51 C313.15 910.74 315.79 908.98 318.44 907.22 C321.08 905.47 323.74 903.72 326.4 901.98 C329.06 900.24 331.72 898.51 334.4 896.78 C337.07 895.05 339.74 893.32 342.42 891.6 C345.1 889.88 347.79 888.17 350.47 886.46 C353.16 884.74 355.85 883.03 358.54 881.32 C361.23 879.61 363.92 877.9 366.61 876.19 C369.3 874.49 372 872.78 374.69 871.07 C377.38 869.35 380.07 867.64 382.76 865.93 C385.45 864.21 388.14 862.49 390.82 860.77 C393.51 859.04 396.19 857.32 398.87 855.58 C401.54 853.85 404.22 852.11 406.89 850.36 C409.55 848.61 412.22 846.86 414.87 845.1 C417.53 843.33 420.18 841.56 422.82 839.78 C425.46 838 428.1 836.21 430.73 834.4 C433.35 832.6 435.97 830.78 438.58 828.96 C441.19 827.14 443.79 825.31 446.4 823.48 C449.01 821.66 451.61 819.84 454.22 818.04 C456.84 816.24 459.45 814.45 462.09 812.69 C464.73 810.94 467.37 809.2 470.04 807.51 C472.71 805.83 475.39 804.17 478.11 802.57 C480.82 800.97 483.56 799.41 486.33 797.92 C489.11 796.44 491.91 795 494.76 793.65 C497.61 792.29 500.49 791 503.42 789.81 C506.35 788.61 509.32 787.48 512.35 786.47 C515.38 785.45 520.06 784.16 521.6 783.7" stroke-width="2.4" stroke-linecap="round" stroke-linejoin="round" stroke-dasharray="2 6.3"/>
<path d="M521.6 783.7 C525.1 783 534.42 780.78 542.6 779.5 C550.78 778.22 561.93 776.95 570.7 776 C579.47 775.05 588.2 774.4 595.2 773.8 C602.2 773.2 609.78 772.63 612.7 772.4" stroke-width="2.0" stroke-linecap="butt" stroke-linejoin="round" stroke-dasharray="4 3.4"/>
<path d="M89.9 1108.3 C90.22 1108.83 90.28 1111.68 91.8 1111.5 C93.32 1111.32 96.63 1108.55 99 1107.2 C101.37 1105.85 104.83 1104.03 106 1103.4" stroke-width="2.6" stroke-linecap="round" stroke-linejoin="round"/>
<path d="M106 1103.4 C107.36 1102.9 111.47 1101.47 114.16 1100.43 C116.85 1099.4 119.5 1098.31 122.13 1097.19 C124.75 1096.06 127.34 1094.89 129.91 1093.67 C132.47 1092.46 135.01 1091.2 137.51 1089.9 C140.01 1088.61 142.49 1087.27 144.94 1085.89 C147.38 1084.51 149.8 1083.08 152.19 1081.63 C154.58 1080.17 156.94 1078.67 159.27 1077.14 C161.61 1075.6 163.92 1074.03 166.2 1072.42 C168.48 1070.82 170.73 1069.17 172.96 1067.5 C175.19 1065.82 177.39 1064.11 179.57 1062.37 C181.75 1060.62 183.91 1058.85 186.04 1057.04 C188.17 1055.24 190.27 1053.4 192.35 1051.53 C194.44 1049.66 196.5 1047.77 198.53 1045.84 C200.57 1043.92 202.58 1041.97 204.58 1039.99 C206.57 1038.01 208.54 1036 210.49 1033.97 C212.44 1031.94 214.37 1029.89 216.28 1027.81 C218.2 1025.74 220.09 1023.65 221.98 1021.54 C223.87 1019.44 225.74 1017.32 227.62 1015.2 C229.49 1013.08 231.36 1010.95 233.23 1008.83 C235.1 1006.7 236.97 1004.57 238.85 1002.46 C240.73 1000.34 242.61 998.22 244.5 996.13 C246.4 994.03 248.3 991.95 250.23 989.89 C252.15 987.82 254.09 985.78 256.05 983.76 C258.02 981.75 260 979.75 262.01 977.8 C264.03 975.84 266.06 973.91 268.14 972.03 C270.22 970.15 272.32 968.3 274.47 966.5 C276.62 964.71 278.8 962.95 281.03 961.25 C283.25 959.54 285.52 957.88 287.82 956.27 C290.11 954.65 292.45 953.08 294.81 951.55 C297.17 950.01 299.57 948.52 301.99 947.07 C304.41 945.61 306.86 944.19 309.33 942.81 C311.81 941.42 314.3 940.08 316.82 938.76 C319.33 937.43 321.87 936.15 324.41 934.89 C326.96 933.62 329.53 932.39 332.1 931.18 C334.68 929.97 337.27 928.79 339.87 927.63 C342.46 926.47 345.07 925.33 347.68 924.2 C350.28 923.08 352.9 921.98 355.51 920.88 C358.13 919.79 360.75 918.71 363.37 917.63 C365.98 916.56 368.6 915.49 371.21 914.42 C373.83 913.34 376.44 912.28 379.05 911.2 C381.65 910.12 384.25 909.04 386.85 907.94 C389.44 906.84 392.03 905.73 394.6 904.61 C397.18 903.48 399.74 902.33 402.29 901.16 C404.85 899.99 407.39 898.79 409.91 897.57 C412.44 896.35 414.95 895.09 417.45 893.82 C419.95 892.54 422.43 891.24 424.91 889.92 C427.39 888.61 429.86 887.27 432.32 885.92 C434.78 884.56 437.24 883.19 439.69 881.82 C442.14 880.44 444.58 879.05 447.02 877.65 C449.46 876.26 451.9 874.85 454.34 873.45 C456.78 872.05 459.21 870.64 461.65 869.23 C464.09 867.83 466.53 866.42 468.98 865.03 C471.42 863.63 473.87 862.23 476.32 860.85 C478.78 859.47 481.23 858.1 483.7 856.74 C486.17 855.39 488.64 854.04 491.13 852.72 C493.62 851.4 496.11 850.09 498.62 848.81 C501.13 847.53 503.65 846.27 506.19 845.04 C508.73 843.81 511.28 842.6 513.84 841.42 C516.41 840.25 520.31 838.57 521.6 838" stroke-width="2.6" stroke-linecap="round" stroke-linejoin="round" stroke-dasharray="13.6 17.6" stroke-dashoffset="15"/>
<path d="M521.6 838 C525.1 837.12 534.42 834.28 542.6 832.7 C550.78 831.12 561.93 829.67 570.7 828.5 C579.47 827.33 588.2 826.63 595.2 825.7 C602.2 824.77 609.78 823.37 612.7 822.9" stroke-width="2.3" stroke-linecap="round" stroke-linejoin="round" stroke-dasharray="14.5 15"/>
</g>
<rect x="72.85" y="1118.4" width="8.9" height="7.8" fill="#000"/>
<rect x="117.5" y="1053.86" width="8.9" height="7.8" fill="#000"/>
<rect x="162.15" y="993.93" width="8.9" height="7.8" fill="#000"/>
<rect x="206.8" y="910.95" width="8.9" height="7.8" fill="#000"/>
<rect x="251.44" y="827.97" width="8.9" height="7.8" fill="#000"/>
<rect x="340.74" y="740.38" width="8.9" height="7.8" fill="#000"/>
<rect x="430.04" y="659.7" width="8.9" height="7.8" fill="#000"/>
<rect x="519.33" y="659.7" width="8.9" height="7.8" fill="#000"/>
<rect x="608.63" y="659.7" width="8.9" height="7.8" fill="#000"/>
<ellipse cx="77.3" cy="1122.3" rx="4.35" ry="3.8" fill="none" stroke="#3a3a3a" stroke-width="0.9"/>
<ellipse cx="121.95" cy="1080.81" rx="4.35" ry="3.8" fill="none" stroke="#3a3a3a" stroke-width="0.9"/>
<ellipse cx="166.6" cy="1039.32" rx="4.35" ry="3.8" fill="none" stroke="#3a3a3a" stroke-width="0.9"/>
<ellipse cx="211.25" cy="997.83" rx="4.35" ry="3.8" fill="none" stroke="#3a3a3a" stroke-width="0.9"/>
<ellipse cx="255.89" cy="947.12" rx="4.35" ry="3.8" fill="none" stroke="#3a3a3a" stroke-width="0.9"/>
<ellipse cx="345.19" cy="891.8" rx="4.35" ry="3.8" fill="none" stroke="#3a3a3a" stroke-width="0.9"/>
<ellipse cx="434.49" cy="831.87" rx="4.35" ry="3.8" fill="none" stroke="#3a3a3a" stroke-width="0.9"/>
<ellipse cx="523.78" cy="781.16" rx="4.35" ry="3.8" fill="none" stroke="#3a3a3a" stroke-width="0.9"/>
<ellipse cx="613.08" cy="771.94" rx="4.35" ry="3.8" fill="none" stroke="#3a3a3a" stroke-width="0.9"/>
<path d="M77.3 1118.4 L81.95 1122.3 L77.3 1126.2 L72.65 1122.3 Z" fill="#fff" stroke="#3a3a3a" stroke-width="0.8"/>
<path d="M121.95 1090.74 L126.6 1094.64 L121.95 1098.54 L117.3 1094.64 Z" fill="#fff" stroke="#3a3a3a" stroke-width="0.8"/>
<path d="M166.6 1072.3 L171.25 1076.2 L166.6 1080.1 L161.95 1076.2 Z" fill="#fff" stroke="#3a3a3a" stroke-width="0.8"/>
<path d="M211.25 1030.81 L215.9 1034.71 L211.25 1038.61 L206.6 1034.71 Z" fill="#fff" stroke="#3a3a3a" stroke-width="0.8"/>
<path d="M255.89 980.1 L260.54 984 L255.89 987.9 L251.24 984 Z" fill="#fff" stroke="#3a3a3a" stroke-width="0.8"/>
<path d="M345.19 920.17 L349.84 924.07 L345.19 927.97 L340.54 924.07 Z" fill="#fff" stroke="#3a3a3a" stroke-width="0.8"/>
<path d="M434.49 883.29 L439.14 887.19 L434.49 891.09 L429.84 887.19 Z" fill="#fff" stroke="#3a3a3a" stroke-width="0.8"/>
<path d="M523.78 832.58 L528.43 836.48 L523.78 840.38 L519.13 836.48 Z" fill="#fff" stroke="#3a3a3a" stroke-width="0.8"/>
<path d="M613.08 818.75 L617.73 822.65 L613.08 826.55 L608.43 822.65 Z" fill="#fff" stroke="#3a3a3a" stroke-width="0.8"/>
<g fill="none" stroke="#000">
</g>
<path d="M519.4 997.6 L524.05 1005.4 L514.75 1005.4 Z" fill="#fff" stroke="#3a3a3a" stroke-width="0.8"/>
<g stroke="#000" fill="none">
<line x1="487.9" y1="1000.7" x2="548.8" y2="1000.7" stroke-width="2" stroke-dasharray="6.2 3.6"/>
<line x1="487.9" y1="1036.7" x2="548.8" y2="1036.7" stroke-width="2.0"/>
<line x1="487.9" y1="1065.6" x2="548.8" y2="1065.6" stroke-width="1.9" stroke-dasharray="3.2 2.05"/>
<path d="M502.5 1093.2H519.4M530.4 1093.2H545.8" stroke-width="2.4"/>
</g>
<rect x="514.95" y="1032.8" width="8.9" height="7.8" fill="#000"/>
<ellipse cx="519.4" cy="1065.6" rx="4.35" ry="3.8" fill="none" stroke="#3a3a3a" stroke-width="0.9"/>
<line x1="515" y1="1065.6" x2="523.8" y2="1065.6" stroke="#000" stroke-width="1.9" stroke-dasharray="3.2 2.05"/>
<path d="M519.4 1089.3 L524.05 1093.2 L519.4 1097.1 L514.75 1093.2 Z" fill="#fff" stroke="#3a3a3a" stroke-width="0.8"/>
<text transform="translate(555 1007.8) scale(1 0.8)" font-family='"Liberation Sans", Arial, Helvetica, sans-serif' font-size="20.5" font-weight="normal" text-anchor="start" fill="#222" stroke="#222" stroke-width="0.3" xml:space="preserve" style="white-space:pre">25  g/L</text>
<text transform="translate(555 1043.3) scale(1 0.8)" font-family='"Liberation Sans", Arial, Helvetica, sans-serif' font-size="20.5" font-weight="normal" text-anchor="start" fill="#222" stroke="#222" stroke-width="0.3" xml:space="preserve" style="white-space:pre">50  g/L</text>
<text transform="translate(555 1072.7) scale(1 0.8)" font-family='"Liberation Sans", Arial, Helvetica, sans-serif' font-size="20.5" font-weight="normal" text-anchor="start" fill="#222" stroke="#222" stroke-width="0.3" xml:space="preserve" style="white-space:pre">75  g/L</text>
<text transform="translate(555.8 1099.8) scale(1 0.8)" font-family='"Liberation Sans", Arial, Helvetica, sans-serif' font-size="20.5" font-weight="normal" text-anchor="start" fill="#222" stroke="#222" stroke-width="0.3" xml:space="preserve" style="white-space:pre">100  g/L</text>
</g>
<g id="chart-c">
<g stroke="#1e1e1e" fill="none" stroke-linecap="butt">
<line x1="68.4" y1="1260.8" x2="669.2" y2="1260.8" stroke-width="1.55"/>
<line x1="68.4" y1="1736.1" x2="669.2" y2="1736.1" stroke-width="1.8"/>
<line x1="78.7" y1="1260.8" x2="78.7" y2="1746.9" stroke-width="2.2"/>
<line x1="668.4" y1="1260.8" x2="668.4" y2="1746.9" stroke-width="2.2"/>
<path d="M73.1 1712.33H78.7M73.1 1688.57H78.7M73.1 1664.8H78.7M68.4 1641.04H78.7M73.1 1617.27H78.7M73.1 1593.51H78.7M73.1 1569.74H78.7M68.4 1545.98H78.7M73.1 1522.21H78.7M73.1 1498.45H78.7M73.1 1474.68H78.7M68.4 1450.92H78.7M73.1 1427.15H78.7M73.1 1403.39H78.7M73.1 1379.62H78.7M68.4 1355.86H78.7M73.1 1332.1H78.7M73.1 1308.33H78.7M73.1 1284.57H78.7" stroke-width="1.4"/>
<path d="M95.55 1736.1V1742.1M112.4 1736.1V1742.1M129.25 1736.1V1742.1M146.09 1736.1V1742.1M162.94 1736.1V1746.9M179.79 1736.1V1742.1M196.64 1736.1V1742.1M213.49 1736.1V1742.1M230.34 1736.1V1742.1M247.19 1736.1V1746.9M264.03 1736.1V1742.1M280.88 1736.1V1742.1M297.73 1736.1V1742.1M314.58 1736.1V1742.1M331.43 1736.1V1746.9M348.28 1736.1V1742.1M365.13 1736.1V1742.1M381.97 1736.1V1742.1M398.82 1736.1V1742.1M415.67 1736.1V1746.9M432.52 1736.1V1742.1M449.37 1736.1V1742.1M466.22 1736.1V1742.1M483.07 1736.1V1742.1M499.91 1736.1V1746.9M516.76 1736.1V1742.1M533.61 1736.1V1742.1M550.46 1736.1V1742.1M567.31 1736.1V1742.1M584.16 1736.1V1746.9M601.01 1736.1V1742.1M617.85 1736.1V1742.1M634.7 1736.1V1742.1M651.55 1736.1V1742.1" stroke-width="1.9"/>
</g>
<text transform="translate(64.5 1742.3) scale(1 0.83)" font-family='"Liberation Sans", Arial, Helvetica, sans-serif' font-size="20.8" font-weight="normal" text-anchor="end" fill="#222" stroke="#222" stroke-width="0.3" xml:space="preserve" style="white-space:pre">0</text>
<text transform="translate(64.5 1647.24) scale(1 0.83)" font-family='"Liberation Sans", Arial, Helvetica, sans-serif' font-size="20.8" font-weight="normal" text-anchor="end" fill="#222" stroke="#222" stroke-width="0.3" xml:space="preserve" style="white-space:pre">20</text>
<text transform="translate(64.5 1552.18) scale(1 0.83)" font-family='"Liberation Sans", Arial, Helvetica, sans-serif' font-size="20.8" font-weight="normal" text-anchor="end" fill="#222" stroke="#222" stroke-width="0.3" xml:space="preserve" style="white-space:pre">40</text>
<text transform="translate(64.5 1457.12) scale(1 0.83)" font-family='"Liberation Sans", Arial, Helvetica, sans-serif' font-size="20.8" font-weight="normal" text-anchor="end" fill="#222" stroke="#222" stroke-width="0.3" xml:space="preserve" style="white-space:pre">60</text>
<text transform="translate(64.5 1362.06) scale(1 0.83)" font-family='"Liberation Sans", Arial, Helvetica, sans-serif' font-size="20.8" font-weight="normal" text-anchor="end" fill="#222" stroke="#222" stroke-width="0.3" xml:space="preserve" style="white-space:pre">80</text>
<text transform="translate(64.5 1267) scale(1 0.83)" font-family='"Liberation Sans", Arial, Helvetica, sans-serif' font-size="20.8" font-weight="normal" text-anchor="end" fill="#222" stroke="#222" stroke-width="0.3" xml:space="preserve" style="white-space:pre">100</text>
<text transform="translate(78.7 1769.4) scale(1 0.83)" font-family='"Liberation Sans", Arial, Helvetica, sans-serif' font-size="20.8" font-weight="normal" text-anchor="middle" fill="#222" stroke="#222" stroke-width="0.3" xml:space="preserve" style="white-space:pre">0</text>
<text transform="translate(162.94 1769.4) scale(1 0.83)" font-family='"Liberation Sans", Arial, Helvetica, sans-serif' font-size="20.8" font-weight="normal" text-anchor="middle" fill="#222" stroke="#222" stroke-width="0.3" xml:space="preserve" style="white-space:pre">0.5</text>
<text transform="translate(247.19 1769.4) scale(1 0.83)" font-family='"Liberation Sans", Arial, Helvetica, sans-serif' font-size="20.8" font-weight="normal" text-anchor="middle" fill="#222" stroke="#222" stroke-width="0.3" xml:space="preserve" style="white-space:pre">1</text>
<text transform="translate(331.43 1769.4) scale(1 0.83)" font-family='"Liberation Sans", Arial, Helvetica, sans-serif' font-size="20.8" font-weight="normal" text-anchor="middle" fill="#222" stroke="#222" stroke-width="0.3" xml:space="preserve" style="white-space:pre">1.5</text>
<text transform="translate(415.67 1769.4) scale(1 0.83)" font-family='"Liberation Sans", Arial, Helvetica, sans-serif' font-size="20.8" font-weight="normal" text-anchor="middle" fill="#222" stroke="#222" stroke-width="0.3" xml:space="preserve" style="white-space:pre">2</text>
<text transform="translate(499.91 1769.4) scale(1 0.83)" font-family='"Liberation Sans", Arial, Helvetica, sans-serif' font-size="20.8" font-weight="normal" text-anchor="middle" fill="#222" stroke="#222" stroke-width="0.3" xml:space="preserve" style="white-space:pre">2.5</text>
<text transform="translate(584.16 1769.4) scale(1 0.83)" font-family='"Liberation Sans", Arial, Helvetica, sans-serif' font-size="20.8" font-weight="normal" text-anchor="middle" fill="#222" stroke="#222" stroke-width="0.3" xml:space="preserve" style="white-space:pre">3</text>
<text transform="translate(668.4 1769.4) scale(1 0.83)" font-family='"Liberation Sans", Arial, Helvetica, sans-serif' font-size="20.8" font-weight="normal" text-anchor="middle" fill="#222" stroke="#222" stroke-width="0.3" xml:space="preserve" style="white-space:pre">3.5</text>
<text transform="translate(373.55 1797.1) scale(1 0.83)" font-family='"Liberation Sans", Arial, Helvetica, sans-serif' font-size="20.8" font-weight="normal" text-anchor="middle" fill="#222" stroke="#222" stroke-width="0.3" xml:space="preserve" style="white-space:pre">Time (hour)</text>
<text transform="translate(18.9 1498.2) rotate(-90) scale(0.81 1)" font-family='"Liberation Sans", Arial, Helvetica, sans-serif' font-size="20.8" font-weight="normal" text-anchor="middle" fill="#222" stroke="#222" stroke-width="0.3" xml:space="preserve" style="white-space:pre">Leaching Percent of Ni</text>
<text transform="translate(92 1294)" font-family='"Liberation Serif", "Times New Roman", serif' font-size="36" font-weight="bold" text-anchor="start" fill="#000" stroke="#000" stroke-width="0.3" xml:space="preserve" style="white-space:pre">c</text>
<ellipse cx="120.82" cy="1617.27" rx="4.6" ry="4.05" fill="none" stroke="#3a3a3a" stroke-width="0.9"/>
<ellipse cx="162.94" cy="1541.23" rx="4.6" ry="4.05" fill="none" stroke="#3a3a3a" stroke-width="0.9"/>
<ellipse cx="205.06" cy="1417.65" rx="4.6" ry="4.05" fill="none" stroke="#3a3a3a" stroke-width="0.9"/>
<ellipse cx="247.19" cy="1284.57" rx="4.6" ry="4.05" fill="none" stroke="#3a3a3a" stroke-width="0.9"/>
<g fill="none" stroke="#000">
<path d="M78.7 1736.1 C78.78 1734.64 79.02 1730.24 79.19 1727.31 C79.35 1724.39 79.52 1721.47 79.69 1718.56 C79.86 1715.65 80.03 1712.75 80.2 1709.85 C80.38 1706.95 80.56 1704.05 80.74 1701.16 C80.92 1698.27 81.1 1695.39 81.28 1692.51 C81.47 1689.63 81.66 1686.75 81.85 1683.88 C82.04 1681.01 82.23 1678.14 82.43 1675.27 C82.63 1672.41 82.82 1669.55 83.03 1666.69 C83.23 1663.84 83.44 1660.99 83.64 1658.14 C83.85 1655.29 84.06 1652.44 84.28 1649.59 C84.49 1646.75 84.71 1643.91 84.93 1641.07 C85.15 1638.23 85.38 1635.39 85.61 1632.56 C85.83 1629.73 86.06 1626.89 86.3 1624.06 C86.53 1621.23 86.77 1618.4 87.01 1615.57 C87.25 1612.75 87.5 1609.92 87.75 1607.09 C88 1604.27 88.25 1601.44 88.5 1598.62 C88.76 1595.79 89.02 1592.97 89.28 1590.14 C89.55 1587.32 89.81 1584.5 90.08 1581.67 C90.35 1578.85 90.63 1576.03 90.91 1573.2 C91.19 1570.38 91.47 1567.55 91.75 1564.73 C92.04 1561.9 92.33 1559.07 92.63 1556.24 C92.92 1553.42 93.22 1550.59 93.52 1547.76 C93.83 1544.92 94.13 1542.09 94.44 1539.26 C94.76 1536.42 95.07 1533.59 95.39 1530.75 C95.71 1527.91 96.03 1525.07 96.36 1522.22 C96.69 1519.38 97.03 1516.53 97.36 1513.68 C97.7 1510.83 98.04 1507.98 98.39 1505.12 C98.74 1502.26 99.09 1499.4 99.44 1496.54 C99.8 1493.67 100.16 1490.81 100.53 1487.93 C100.89 1485.06 101.26 1482.18 101.64 1479.3 C102.01 1476.42 102.39 1473.54 102.78 1470.65 C103.16 1467.76 103.55 1464.86 103.95 1461.96 C104.35 1459.06 104.74 1456.15 105.15 1453.24 C105.56 1450.34 105.98 1447.42 106.4 1444.51 C106.83 1441.6 107.27 1438.69 107.72 1435.77 C108.17 1432.86 108.63 1429.95 109.12 1427.05 C109.6 1424.14 110.1 1421.24 110.61 1418.34 C111.13 1415.45 111.67 1412.56 112.23 1409.67 C112.78 1406.79 113.36 1403.92 113.97 1401.06 C114.58 1398.2 115.21 1395.34 115.86 1392.5 C116.52 1389.67 117.21 1386.84 117.93 1384.03 C118.64 1381.22 119.39 1378.42 120.17 1375.65 C120.95 1372.87 121.76 1370.11 122.62 1367.37 C123.47 1364.63 124.35 1361.91 125.28 1359.21 C126.21 1356.51 127.17 1353.83 128.18 1351.18 C129.19 1348.53 130.23 1345.9 131.33 1343.3 C132.42 1340.7 133.56 1338.13 134.75 1335.58 C135.93 1333.04 137.17 1330.52 138.45 1328.03 C139.74 1325.55 141.07 1323.09 142.46 1320.67 C143.85 1318.25 145.29 1315.86 146.79 1313.51 C148.29 1311.16 149.84 1308.84 151.45 1306.57 C153.07 1304.29 154.73 1302.05 156.47 1299.86 C158.21 1297.68 160.01 1295.53 161.89 1293.46 C163.76 1291.4 165.71 1289.38 167.73 1287.46 C169.76 1285.53 171.86 1283.67 174.05 1281.92 C176.24 1280.17 178.51 1278.49 180.88 1276.93 C183.24 1275.38 185.69 1273.91 188.25 1272.58 C190.81 1271.25 193.45 1270.02 196.21 1268.94 C198.97 1267.86 203.37 1266.57 204.8 1266.1" stroke-width="2.6" stroke-linecap="butt" stroke-linejoin="round" stroke-dasharray="5.5 6.5"/>
<path d="M204.8 1266.1 C208.12 1265.82 217.67 1264.82 224.7 1264.4 C231.73 1263.98 236.12 1263.8 247 1263.6 C257.88 1263.4 282.83 1263.27 290 1263.2" stroke-width="2.0" stroke-linecap="butt" stroke-linejoin="round" stroke-dasharray="6.7 5"/>
<path d="M78.7 1736.1 C79.13 1734.41 80.38 1729.33 81.26 1725.96 C82.15 1722.59 83.07 1719.24 84.02 1715.89 C84.97 1712.55 85.95 1709.22 86.96 1705.9 C87.98 1702.58 89.02 1699.27 90.09 1695.98 C91.16 1692.68 92.26 1689.4 93.39 1686.12 C94.52 1682.85 95.67 1679.59 96.85 1676.34 C98.04 1673.08 99.24 1669.84 100.48 1666.61 C101.71 1663.38 102.97 1660.16 104.25 1656.95 C105.53 1653.74 106.84 1650.53 108.17 1647.34 C109.5 1644.15 110.85 1640.97 112.22 1637.79 C113.59 1634.62 114.99 1631.46 116.4 1628.3 C117.81 1625.14 119.25 1622 120.7 1618.86 C122.16 1615.72 123.63 1612.58 125.12 1609.46 C126.61 1606.34 128.12 1603.22 129.64 1600.11 C131.16 1597 132.71 1593.9 134.26 1590.81 C135.82 1587.71 137.39 1584.63 138.97 1581.55 C140.56 1578.47 142.16 1575.39 143.77 1572.32 C145.38 1569.25 147.01 1566.2 148.63 1563.13 C150.25 1560.07 151.88 1557.01 153.48 1553.93 C155.09 1550.86 156.69 1547.79 158.25 1544.69 C159.8 1541.59 161.35 1538.49 162.83 1535.36 C164.32 1532.22 165.76 1529.07 167.15 1525.89 C168.54 1522.71 169.87 1519.49 171.17 1516.27 C172.46 1513.05 173.7 1509.79 174.93 1506.54 C176.15 1503.29 177.33 1500.02 178.51 1496.75 C179.68 1493.49 180.83 1490.22 181.98 1486.96 C183.13 1483.7 184.27 1480.44 185.42 1477.2 C186.57 1473.96 187.72 1470.74 188.87 1467.52 C190.02 1464.3 191.18 1461.1 192.32 1457.89 C193.47 1454.68 194.61 1451.48 195.74 1448.26 C196.87 1445.05 198 1441.84 199.11 1438.62 C200.22 1435.39 201.31 1432.16 202.39 1428.91 C203.47 1425.66 204.53 1422.39 205.56 1419.1 C206.59 1415.81 207.61 1412.51 208.59 1409.17 C209.58 1405.83 210.53 1402.46 211.46 1399.06 C212.38 1395.66 213.27 1392.22 214.15 1388.77 C215.02 1385.31 215.86 1381.82 216.72 1378.34 C217.58 1374.85 218.43 1371.34 219.3 1367.86 C220.18 1364.37 221.06 1360.88 221.99 1357.42 C222.92 1353.96 223.86 1350.51 224.88 1347.11 C225.9 1343.71 226.96 1340.33 228.1 1337.02 C229.24 1333.7 230.44 1330.43 231.74 1327.23 C233.04 1324.03 234.42 1320.89 235.92 1317.84 C237.41 1314.78 239 1311.8 240.73 1308.92 C242.46 1306.05 244.3 1303.24 246.29 1300.59 C248.27 1297.93 250.39 1295.37 252.65 1292.99 C254.91 1290.61 257.31 1288.36 259.86 1286.3 C262.41 1284.25 265.12 1282.37 267.93 1280.65 C270.75 1278.93 273.71 1277.38 276.76 1275.97 C279.8 1274.55 282.98 1273.3 286.21 1272.17 C289.45 1271.03 292.79 1270.05 296.18 1269.16 C299.57 1268.28 303.04 1267.53 306.54 1266.87 C310.04 1266.21 313.61 1265.67 317.18 1265.2 C320.75 1264.73 324.36 1264.37 327.97 1264.07 C331.57 1263.77 335.19 1263.56 338.79 1263.39 C342.38 1263.23 345.98 1263.14 349.52 1263.08 C353.06 1263.03 356.59 1263.03 360.05 1263.06 C363.5 1263.08 366.92 1263.15 370.25 1263.22 C373.57 1263.3 378.37 1263.45 380 1263.5" stroke-width="2.6" stroke-linecap="round" stroke-linejoin="round" stroke-dasharray="1.3 7.1"/>
<path d="M78.7 1736.1 C78.96 1735.02 79.76 1731.8 80.28 1729.64 C80.8 1727.48 81.33 1725.33 81.85 1723.17 C82.37 1721.01 82.89 1718.85 83.41 1716.68 C83.93 1714.52 84.45 1712.36 84.98 1710.2 C85.5 1708.03 86.03 1705.87 86.56 1703.71 C87.09 1701.54 87.62 1699.38 88.15 1697.22 C88.69 1695.05 89.23 1692.89 89.78 1690.73 C90.33 1688.57 90.88 1686.41 91.44 1684.26 C92 1682.1 92.57 1679.94 93.14 1677.79 C93.72 1675.64 94.3 1673.49 94.9 1671.35 C95.49 1669.2 96.1 1667.06 96.71 1664.92 C97.33 1662.78 97.95 1660.64 98.59 1658.51 C99.23 1656.38 99.88 1654.25 100.55 1652.13 C101.21 1650.01 101.89 1647.9 102.59 1645.79 C103.28 1643.68 103.99 1641.57 104.72 1639.47 C105.44 1637.37 106.18 1635.28 106.94 1633.19 C107.7 1631.11 108.48 1629.03 109.28 1626.96 C110.07 1624.89 110.89 1622.82 111.73 1620.77 C112.56 1618.71 113.42 1616.67 114.3 1614.63 C115.17 1612.59 116.07 1610.56 116.99 1608.53 C117.91 1606.51 118.85 1604.5 119.8 1602.49 C120.75 1600.48 121.73 1598.48 122.71 1596.48 C123.69 1594.49 124.69 1592.5 125.7 1590.51 C126.71 1588.52 127.73 1586.54 128.75 1584.56 C129.78 1582.58 130.82 1580.61 131.86 1578.64 C132.9 1576.67 133.95 1574.7 135 1572.73 C136.05 1570.76 137.11 1568.8 138.16 1566.83 C139.21 1564.86 140.27 1562.9 141.32 1560.93 C142.37 1558.97 143.43 1557 144.47 1555.03 C145.52 1553.06 146.56 1551.1 147.6 1549.12 C148.63 1547.15 149.66 1545.18 150.67 1543.2 C151.69 1541.22 152.7 1539.24 153.69 1537.26 C154.69 1535.27 155.67 1533.28 156.64 1531.29 C157.61 1529.29 158.57 1527.29 159.51 1525.29 C160.46 1523.28 161.39 1521.28 162.31 1519.26 C163.23 1517.25 164.14 1515.24 165.04 1513.21 C165.94 1511.19 166.83 1509.17 167.71 1507.14 C168.58 1505.11 169.45 1503.08 170.3 1501.04 C171.16 1499 172 1496.96 172.84 1494.91 C173.67 1492.87 174.5 1490.82 175.31 1488.76 C176.13 1486.71 176.93 1484.65 177.73 1482.59 C178.53 1480.53 179.31 1478.46 180.09 1476.39 C180.87 1474.32 181.63 1472.25 182.39 1470.17 C183.15 1468.09 183.9 1466.01 184.65 1463.93 C185.39 1461.84 186.12 1459.76 186.85 1457.66 C187.58 1455.57 188.29 1453.48 189.01 1451.38 C189.72 1449.28 190.42 1447.17 191.12 1445.07 C191.81 1442.96 192.5 1440.85 193.18 1438.74 C193.86 1436.63 194.54 1434.51 195.21 1432.39 C195.88 1430.27 196.54 1428.15 197.19 1426.02 C197.85 1423.89 198.5 1421.76 199.14 1419.63 C199.79 1417.5 200.43 1415.36 201.06 1413.22 C201.69 1411.08 202.32 1408.94 202.94 1406.8 C203.56 1404.65 204.18 1402.5 204.79 1400.35 C205.41 1398.2 206.01 1396.05 206.62 1393.89 C207.22 1391.73 207.82 1389.57 208.42 1387.41 C209.01 1385.25 209.6 1383.08 210.19 1380.91 C210.78 1378.74 211.36 1376.57 211.95 1374.4 C212.53 1372.22 213.1 1370.05 213.68 1367.87 C214.26 1365.69 214.84 1363.51 215.42 1361.34 C216.01 1359.16 216.59 1356.98 217.19 1354.81 C217.79 1352.64 218.4 1350.47 219.02 1348.31 C219.64 1346.15 220.27 1344 220.92 1341.85 C221.57 1339.7 222.24 1337.56 222.93 1335.44 C223.63 1333.31 224.34 1331.19 225.08 1329.09 C225.82 1326.98 226.58 1324.89 227.38 1322.81 C228.18 1320.74 229.01 1318.68 229.87 1316.63 C230.73 1314.59 231.63 1312.56 232.57 1310.56 C233.51 1308.55 234.48 1306.56 235.5 1304.6 C236.53 1302.64 237.59 1300.69 238.7 1298.77 C239.81 1296.86 240.97 1294.96 242.19 1293.1 C243.4 1291.23 244.66 1289.39 245.98 1287.61 C247.3 1285.83 248.68 1284.08 250.11 1282.41 C251.54 1280.75 253.03 1279.13 254.58 1277.62 C256.13 1276.11 257.74 1274.67 259.42 1273.35 C261.1 1272.03 262.83 1270.8 264.64 1269.71 C266.45 1268.62 268.32 1267.65 270.26 1266.81 C272.19 1265.97 274.2 1265.27 276.26 1264.67 C278.31 1264.07 280.43 1263.6 282.59 1263.2 C284.74 1262.81 286.95 1262.53 289.18 1262.31 C291.41 1262.08 293.68 1261.96 295.97 1261.87 C298.25 1261.79 300.57 1261.78 302.9 1261.8 C305.22 1261.81 307.56 1261.89 309.9 1261.98 C312.24 1262.06 314.58 1262.19 316.92 1262.31 C319.25 1262.43 321.58 1262.57 323.88 1262.69 C326.19 1262.8 328.48 1262.93 330.74 1263.01 C332.99 1263.09 335.23 1263.16 337.42 1263.17 C339.6 1263.18 341.76 1263.17 343.86 1263.07 C345.96 1262.98 348.98 1262.68 350 1262.6" stroke-width="3.2" stroke-linecap="round" stroke-linejoin="round"/>
<path d="M350 1262.6 C360.83 1262.6 390.05 1262.6 415 1262.6 C439.95 1262.6 471.55 1262.6 499.7 1262.6 C527.85 1262.6 569.87 1262.6 583.9 1262.6" stroke-width="3.0" stroke-linecap="round" stroke-linejoin="round"/>
<path d="M83.9 1721.5 C84.13 1721.92 84.53 1724.58 85.3 1724 C86.07 1723.42 87.33 1720.1 88.5 1718 C89.67 1715.9 91.67 1712.5 92.3 1711.4" stroke-width="3.0" stroke-linecap="round" stroke-linejoin="round"/>
<path d="M92.3 1711.4 C93 1710.31 95.09 1707.04 96.48 1704.87 C97.88 1702.69 99.29 1700.52 100.69 1698.34 C102.1 1696.17 103.51 1694 104.92 1691.83 C106.33 1689.65 107.74 1687.48 109.16 1685.31 C110.57 1683.14 111.98 1680.97 113.4 1678.8 C114.81 1676.63 116.22 1674.45 117.64 1672.28 C119.05 1670.11 120.46 1667.93 121.87 1665.75 C123.27 1663.58 124.68 1661.4 126.08 1659.22 C127.48 1657.04 128.88 1654.86 130.28 1652.67 C131.67 1650.49 133.06 1648.3 134.44 1646.11 C135.83 1643.92 137.21 1641.72 138.58 1639.52 C139.95 1637.33 141.31 1635.12 142.67 1632.92 C144.03 1630.71 145.38 1628.5 146.72 1626.28 C148.06 1624.07 149.39 1621.85 150.71 1619.62 C152.03 1617.39 153.34 1615.16 154.64 1612.93 C155.95 1610.69 157.24 1608.45 158.51 1606.2 C159.79 1603.94 161.06 1601.69 162.31 1599.43 C163.56 1597.16 164.8 1594.89 166.03 1592.62 C167.26 1590.34 168.48 1588.06 169.69 1585.77 C170.9 1583.49 172.1 1581.19 173.3 1578.9 C174.49 1576.6 175.68 1574.31 176.86 1572 C178.05 1569.7 179.22 1567.4 180.4 1565.09 C181.57 1562.79 182.74 1560.48 183.92 1558.18 C185.09 1555.87 186.25 1553.56 187.43 1551.25 C188.6 1548.95 189.77 1546.64 190.94 1544.33 C192.11 1542.03 193.29 1539.73 194.47 1537.42 C195.65 1535.12 196.84 1532.82 198.03 1530.53 C199.22 1528.24 200.42 1525.94 201.62 1523.66 C202.83 1521.37 204.04 1519.09 205.27 1516.81 C206.5 1514.54 207.73 1512.27 208.98 1510 C210.23 1507.74 211.48 1505.48 212.76 1503.24 C214.03 1500.99 215.32 1498.75 216.62 1496.51 C217.93 1494.28 219.25 1492.06 220.58 1489.84 C221.92 1487.63 223.28 1485.43 224.65 1483.24 C226.03 1481.04 227.42 1478.86 228.84 1476.69 C230.26 1474.52 231.69 1472.36 233.16 1470.22 C234.62 1468.08 236.1 1465.94 237.61 1463.83 C239.13 1461.71 240.66 1459.61 242.22 1457.52 C243.79 1455.43 246.2 1452.34 247 1451.3" stroke-width="3.0" stroke-linecap="round" stroke-linejoin="round" stroke-dasharray="11.6 17.6" stroke-dashoffset="-14"/>
<path d="M247 1451.3 C248.06 1450.65 251.24 1448.72 253.35 1447.41 C255.46 1446.1 257.57 1444.77 259.66 1443.43 C261.76 1442.09 263.85 1440.73 265.94 1439.36 C268.02 1438 270.1 1436.61 272.18 1435.22 C274.25 1433.83 276.32 1432.43 278.39 1431.02 C280.46 1429.61 282.52 1428.19 284.58 1426.76 C286.63 1425.33 288.69 1423.89 290.74 1422.44 C292.79 1421 294.84 1419.55 296.88 1418.09 C298.93 1416.63 300.97 1415.17 303.02 1413.7 C305.06 1412.24 307.1 1410.77 309.14 1409.29 C311.18 1407.82 313.22 1406.34 315.25 1404.87 C317.29 1403.39 319.33 1401.91 321.37 1400.43 C323.4 1398.95 325.44 1397.47 327.48 1396 C329.52 1394.52 331.56 1393.05 333.6 1391.57 C335.64 1390.1 337.68 1388.63 339.73 1387.17 C341.77 1385.7 343.82 1384.24 345.87 1382.78 C347.92 1381.33 349.97 1379.88 352.03 1378.44 C354.08 1376.99 356.14 1375.56 358.21 1374.13 C360.27 1372.7 362.34 1371.29 364.41 1369.88 C366.48 1368.47 368.56 1367.07 370.64 1365.68 C372.73 1364.29 374.81 1362.92 376.91 1361.55 C379 1360.19 381.1 1358.84 383.21 1357.5 C385.31 1356.16 387.43 1354.84 389.55 1353.53 C391.67 1352.23 393.8 1350.93 395.93 1349.66 C398.07 1348.38 400.21 1347.12 402.37 1345.88 C404.52 1344.64 406.68 1343.42 408.85 1342.22 C411.02 1341.01 413.2 1339.83 415.39 1338.67 C417.58 1337.51 419.78 1336.37 421.99 1335.25 C424.2 1334.13 426.42 1333.03 428.65 1331.96 C430.88 1330.89 433.12 1329.84 435.38 1328.81 C437.63 1327.79 439.9 1326.79 442.18 1325.82 C444.46 1324.85 446.75 1323.9 449.05 1322.98 C451.36 1322.07 453.68 1321.18 456.01 1320.32 C458.34 1319.46 460.68 1318.63 463.04 1317.83 C465.4 1317.03 467.78 1316.26 470.17 1315.52 C472.56 1314.78 474.96 1314.08 477.38 1313.4 C479.8 1312.73 482.24 1312.09 484.69 1311.49 C487.14 1310.89 489.61 1310.32 492.09 1309.79 C494.58 1309.26 498.35 1308.55 499.6 1308.3" stroke-width="3.0" stroke-linecap="round" stroke-linejoin="round" stroke-dasharray="15 20" stroke-dashoffset="-10"/>
<path d="M499.6 1308.3 C504.27 1306.97 518.27 1302.92 527.6 1300.3 C536.93 1297.68 546.13 1295.18 555.6 1292.6 C565.07 1290.02 579.6 1286.1 584.4 1284.8" stroke-width="2.5" stroke-linecap="round" stroke-linejoin="round" stroke-dasharray="14.5 15"/>
</g>
<path d="M78.7 1731.95 L83.6 1740.25 L73.8 1740.25 Z" fill="#fff" stroke="#3a3a3a" stroke-width="0.8"/>
<path d="M120.82 1351.71 L125.72 1360.01 L115.92 1360.01 Z" fill="#fff" stroke="#3a3a3a" stroke-width="0.8"/>
<path d="M162.94 1280.41 L167.84 1288.72 L158.04 1288.72 Z" fill="#fff" stroke="#3a3a3a" stroke-width="0.8"/>
<path d="M205.06 1261.4 L209.96 1269.7 L200.16 1269.7 Z" fill="#fff" stroke="#3a3a3a" stroke-width="0.8"/>
<rect x="74" y="1731.95" width="9.4" height="8.3" fill="#000"/>
<rect x="116.12" y="1594.11" width="9.4" height="8.3" fill="#000"/>
<rect x="158.24" y="1518.06" width="9.4" height="8.3" fill="#000"/>
<rect x="200.36" y="1399.24" width="9.4" height="8.3" fill="#000"/>
<rect x="242.49" y="1259.98" width="9.4" height="8.3" fill="#000"/>
<rect x="326.73" y="1259.5" width="9.4" height="8.3" fill="#000"/>
<rect x="410.97" y="1259.03" width="9.4" height="8.3" fill="#000"/>
<rect x="495.21" y="1258.55" width="9.4" height="8.3" fill="#000"/>
<rect x="579.46" y="1258.55" width="9.4" height="8.3" fill="#000"/>
<path d="M78.7 1731.95 L83.6 1736.1 L78.7 1740.25 L73.8 1736.1 Z" fill="#fff" stroke="#3a3a3a" stroke-width="0.8"/>
<path d="M120.82 1660.65 L125.72 1664.8 L120.82 1668.95 L115.92 1664.8 Z" fill="#fff" stroke="#3a3a3a" stroke-width="0.8"/>
<path d="M162.94 1598.87 L167.84 1603.02 L162.94 1607.17 L158.04 1603.02 Z" fill="#fff" stroke="#3a3a3a" stroke-width="0.8"/>
<path d="M205.06 1508.56 L209.96 1512.71 L205.06 1516.86 L200.16 1512.71 Z" fill="#fff" stroke="#3a3a3a" stroke-width="0.8"/>
<path d="M247.19 1446.77 L252.09 1450.92 L247.19 1455.07 L242.29 1450.92 Z" fill="#fff" stroke="#3a3a3a" stroke-width="0.8"/>
<path d="M331.43 1389.73 L336.33 1393.88 L331.43 1398.03 L326.53 1393.88 Z" fill="#fff" stroke="#3a3a3a" stroke-width="0.8"/>
<path d="M415.67 1332.7 L420.57 1336.85 L415.67 1341 L410.77 1336.85 Z" fill="#fff" stroke="#3a3a3a" stroke-width="0.8"/>
<path d="M499.91 1304.18 L504.81 1308.33 L499.91 1312.48 L495.01 1308.33 Z" fill="#fff" stroke="#3a3a3a" stroke-width="0.8"/>
<path d="M584.16 1280.41 L589.06 1284.57 L584.16 1288.72 L579.26 1284.57 Z" fill="#fff" stroke="#3a3a3a" stroke-width="0.8"/>
<g fill="none" stroke="#000">
</g>
<path d="M529.9 1615.75 L534.8 1624.05 L525 1624.05 Z" fill="#fff" stroke="#3a3a3a" stroke-width="0.8"/>
<g stroke="#000" fill="none">
<line x1="497.2" y1="1619.1" x2="560.4" y2="1619.1" stroke-width="2" stroke-dasharray="6.2 3.6"/>
<line x1="497.2" y1="1649.6" x2="560.4" y2="1649.6" stroke-width="2.0"/>
<line x1="497.2" y1="1680.2" x2="560.4" y2="1680.2" stroke-width="1.9" stroke-dasharray="3.2 2.05"/>
<path d="M511.8 1710.7H529.9M540.9 1710.7H557.4" stroke-width="2.4"/>
</g>
<rect x="525.2" y="1645.45" width="9.4" height="8.3" fill="#000"/>
<ellipse cx="529.9" cy="1680.2" rx="4.6" ry="4.05" fill="none" stroke="#3a3a3a" stroke-width="0.9"/>
<line x1="525.5" y1="1680.2" x2="534.3" y2="1680.2" stroke="#000" stroke-width="1.9" stroke-dasharray="3.2 2.05"/>
<path d="M529.9 1706.55 L534.8 1710.7 L529.9 1714.85 L525 1710.7 Z" fill="#fff" stroke="#3a3a3a" stroke-width="0.8"/>
<text transform="translate(566.8 1626.6) scale(1 0.83)" font-family='"Liberation Sans", Arial, Helvetica, sans-serif' font-size="20.8" font-weight="normal" text-anchor="start" fill="#222" stroke="#222" stroke-width="0.3" xml:space="preserve" style="white-space:pre">25  g/L</text>
<text transform="translate(566.8 1657.1) scale(1 0.83)" font-family='"Liberation Sans", Arial, Helvetica, sans-serif' font-size="20.8" font-weight="normal" text-anchor="start" fill="#222" stroke="#222" stroke-width="0.3" xml:space="preserve" style="white-space:pre">50  g/L</text>
<text transform="translate(566.8 1687.1) scale(1 0.83)" font-family='"Liberation Sans", Arial, Helvetica, sans-serif' font-size="20.8" font-weight="normal" text-anchor="start" fill="#222" stroke="#222" stroke-width="0.3" xml:space="preserve" style="white-space:pre">75  g/L</text>
<text transform="translate(567.6 1717.6) scale(1 0.83)" font-family='"Liberation Sans", Arial, Helvetica, sans-serif' font-size="20.8" font-weight="normal" text-anchor="start" fill="#222" stroke="#222" stroke-width="0.3" xml:space="preserve" style="white-space:pre">100  g/L</text>
</g>
</g>
</svg>
</body></html>
